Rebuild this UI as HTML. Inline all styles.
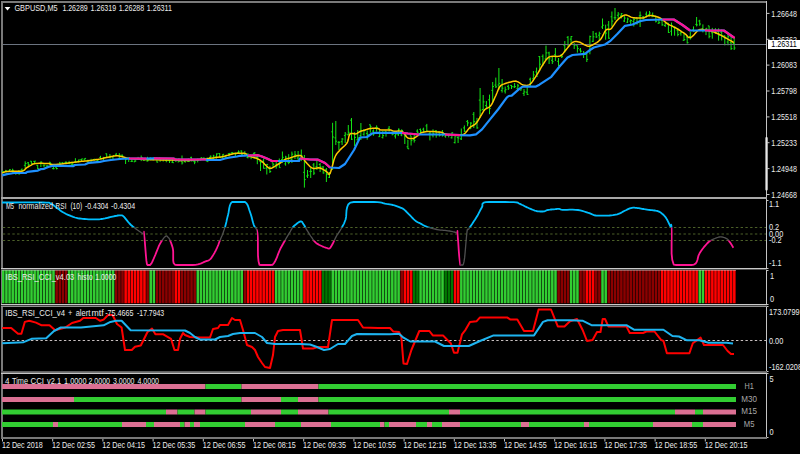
<!DOCTYPE html><html><head><meta charset="utf-8"><style>html,body{margin:0;padding:0;background:#000;overflow:hidden}svg{display:block}text{font-family:"Liberation Sans",sans-serif}</style></head><body>
<svg width="800" height="454" viewBox="0 0 800 454">
<rect x="0" y="0" width="800" height="454" fill="#000"/>
<g shape-rendering="crispEdges">
<rect x="1" y="1" width="766" height="2" fill="#7a7a7a"/>
<rect x="1" y="1" width="2" height="438" fill="#7a7a7a"/>
<rect x="766" y="1" width="1" height="438" fill="#c4c4c4"/>
<rect x="1" y="197" width="766" height="2" fill="#a8a8a8"/>
<rect x="1" y="268" width="766" height="1" fill="#c8c8c8"/><rect x="1" y="269" width="766" height="1" fill="#505050"/>
<rect x="1" y="304" width="766" height="1" fill="#c8c8c8"/><rect x="1" y="305" width="766" height="1" fill="#404040"/><rect x="1" y="306" width="766" height="1" fill="#909090"/>
<rect x="1" y="371" width="766" height="1" fill="#606060"/><rect x="1" y="372" width="766" height="1" fill="#747474"/><rect x="1" y="373" width="766" height="1" fill="#c8c8c8"/>
<rect x="1" y="437" width="766" height="2" fill="#787878"/>
</g>
<rect x="765.4" y="137" width="2.3" height="53.5" rx="1" fill="#e8e8e8"/>
<g stroke="#14e614" stroke-width="1" fill="none">
<path d="M3.2 171.1V173.5M1.9 171.3H3.2M3.2 172.4H4.5M6.3 170.4V172.5M5.0 170.4H6.3M6.3 171.3H7.6M9.5 169.3V171.5M8.2 171.1H9.5M9.5 169.6H10.8M12.6 168.7V172.8M11.3 171.1H12.6M12.6 170.3H13.9M15.8 171.8V174.8M14.4 172.7H15.8M15.8 172.3H17.1M18.9 170.0V174.5M17.6 173.1H18.9M18.9 173.9H20.2M22.0 168.4V171.5M20.7 169.8H22.0M22.0 170.6H23.3M25.2 161.3V168.4M23.9 165.3H25.2M25.2 163.5H26.5M28.3 162.0V166.0M27.0 162.8H28.3M28.3 164.5H29.6M31.4 161.0V164.0M30.1 161.2H31.4M31.4 163.7H32.7M34.6 161.0V164.0M33.3 161.4H34.6M34.6 161.1H35.9M37.7 165.0V169.0M36.4 165.4H37.7M37.7 168.7H39.0M40.9 161.3V167.0M39.6 163.3H40.9M40.9 162.1H42.2M44.0 165.0V167.5M42.7 165.1H44.0M44.0 165.1H45.3M47.1 165.0V166.6M45.8 166.1H47.1M47.1 166.0H48.4M50.3 162.2V165.5M49.0 162.2H50.3M50.3 163.7H51.6M53.4 167.0V169.3M52.1 168.6H53.4M53.4 168.7H54.7M56.5 167.5V169.3M55.2 167.6H56.5M56.5 168.6H57.8M59.7 161.9V166.5M58.4 165.9H59.7M59.7 163.2H61.0M62.8 162.0V164.0M61.5 162.7H62.8M62.8 163.6H64.1M66.0 161.2V163.6M64.7 162.4H66.0M66.0 162.6H67.2M69.1 160.9V164.0M67.8 163.4H69.1M69.1 163.7H70.4M72.2 161.7V165.7M70.9 164.2H72.2M72.2 164.4H73.5M75.4 158.2V163.1M74.1 162.5H75.4M75.4 162.1H76.7M78.5 159.8V162.4M77.2 161.4H78.5M78.5 159.9H79.8M81.6 158.8V161.2M80.3 159.6H81.6M81.6 158.9H82.9M84.8 158.4V160.6M83.5 159.2H84.8M84.8 158.4H86.1M87.9 159.7V163.0M86.6 160.6H87.9M87.9 160.9H89.2M91.1 158.8V162.5M89.8 162.5H91.1M91.1 160.5H92.4M94.2 158.8V160.9M92.9 159.5H94.2M94.2 159.3H95.5M97.3 159.2V161.3M96.0 161.2H97.3M97.3 160.3H98.6M100.5 155.8V158.8M99.2 157.4H100.5M100.5 158.7H101.8M103.6 156.9V160.7M102.3 158.3H103.6M103.6 157.6H104.9M106.7 153.5V158.0M105.4 153.8H106.7M106.7 157.4H108.0M109.9 154.0V158.0M108.6 157.7H109.9M109.9 157.8H111.2M113.0 155.7V159.0M111.7 156.9H113.0M113.0 155.8H114.3M116.2 152.9V155.8M114.9 154.9H116.2M116.2 155.7H117.5M119.3 153.1V158.9M118.0 158.7H119.3M119.3 155.2H120.6M122.4 154.6V157.3M121.1 155.2H122.4M122.4 156.3H123.7M125.6 158.0V164.0M124.3 158.6H125.6M125.6 159.2H126.9M128.7 158.0V162.0M127.4 158.4H128.7M128.7 158.1H130.0M131.8 158.0V162.0M130.5 161.4H131.8M131.8 161.2H133.1M135.0 158.5V162.0M133.7 161.8H135.0M135.0 161.0H136.3M138.1 156.9V159.3M136.8 159.0H138.1M138.1 158.8H139.4M141.2 155.5V161.1M139.9 159.2H141.2M141.2 157.5H142.6M144.4 158.4V160.5M143.1 160.4H144.4M144.4 159.8H145.7M147.5 156.8V161.5M146.2 160.9H147.5M147.5 160.7H148.8M150.7 157.4V160.3M149.4 158.1H150.7M150.7 159.1H152.0M153.8 157.2V160.2M152.5 159.9H153.8M153.8 158.3H155.1M156.9 157.6V162.5M155.6 159.6H156.9M156.9 162.1H158.2M160.1 157.9V161.9M158.8 157.9H160.1M160.1 159.6H161.4M163.2 158.1V161.6M161.9 158.7H163.2M163.2 159.7H164.5M166.3 158.6V162.3M165.0 160.5H166.3M166.3 160.7H167.7M169.5 159.8V163.0M168.2 160.6H169.5M169.5 160.7H170.8M172.6 159.0V163.0M171.3 162.1H172.6M172.6 162.7H173.9M175.8 157.9V162.0M174.5 160.0H175.8M175.8 160.7H177.1M178.9 158.2V162.1M177.6 161.9H178.9M178.9 160.9H180.2M182.0 155.5V164.5M180.7 161.2H182.0M182.0 162.9H183.3M185.2 160.4V162.8M183.9 161.5H185.2M185.2 160.6H186.5M188.3 158.5V161.9M187.0 161.2H188.3M188.3 161.5H189.6M191.4 156.7V161.4M190.1 157.4H191.4M191.4 160.8H192.8M194.6 159.9V164.2M193.3 161.6H194.6M194.6 162.0H195.9M197.7 158.5V162.4M196.4 160.2H197.7M197.7 160.5H199.0M200.9 157.6V160.5M199.6 159.7H200.9M200.9 157.7H202.2M204.0 157.3V160.1M202.7 158.2H204.0M204.0 159.1H205.3M207.1 157.6V161.7M205.8 160.8H207.1M207.1 161.6H208.4M210.3 155.5V158.0M209.0 157.5H210.3M210.3 156.2H211.6M213.4 154.8V159.7M212.1 158.8H213.4M213.4 156.1H214.7M216.6 153.4V158.6M215.2 157.0H216.6M216.6 153.9H217.9M219.7 153.2V157.6M218.4 153.5H219.7M219.7 157.4H221.0M222.8 154.1V158.0M221.5 157.4H222.8M222.8 154.3H224.1M226.0 154.8V158.6M224.7 156.9H226.0M226.0 158.3H227.3M229.1 153.0V156.5M227.8 153.8H229.1M229.1 153.4H230.4M232.2 152.1V154.6M230.9 152.9H232.2M232.2 152.8H233.5M235.4 152.6V156.5M234.1 153.3H235.4M235.4 153.9H236.7M238.5 150.4V153.1M237.2 152.4H238.5M238.5 151.9H239.8M241.7 150.4V155.8M240.3 151.0H241.7M241.7 154.8H243.0M244.8 151.1V156.3M243.5 153.1H244.8M244.8 153.7H246.1M247.9 153.1V158.4M246.6 157.5H247.9M247.9 156.8H249.2M251.1 154.9V159.2M249.8 155.1H251.1M251.1 155.5H252.4M254.2 152.4V158.6M252.9 153.4H254.2M254.2 152.9H255.5M257.3 154.5V164.2M256.0 157.3H257.3M257.3 156.9H258.6M260.5 160.0V171.0M259.2 161.2H260.5M260.5 162.3H261.8M263.6 158.6V168.6M262.3 161.1H263.6M263.6 168.3H264.9M266.8 164.0V174.5M265.4 168.1H266.8M266.8 164.4H268.1M269.9 166.0V173.0M268.6 168.8H269.9M269.9 171.5H271.2M273.0 162.7V168.1M271.7 162.8H273.0M273.0 164.3H274.3M276.2 160.3V168.7M274.9 166.6H276.2M276.2 165.8H277.5M279.3 158.5V167.7M278.0 161.5H279.3M279.3 167.6H280.6M282.4 151.5V163.0M281.1 159.5H282.4M282.4 157.3H283.7M285.6 155.8V165.7M284.3 163.9H285.6M285.6 157.1H286.9M288.7 154.2V164.2M287.4 162.3H288.7M288.7 162.5H290.0M291.9 151.6V163.0M290.6 159.5H291.9M291.9 154.2H293.2M295.0 151.0V159.0M293.7 156.1H295.0M295.0 154.7H296.3M298.1 151.0V161.3M296.8 158.0H298.1M298.1 156.0H299.4M301.3 149.5V161.1M300.0 155.3H301.3M301.3 155.7H302.6M304.4 155.0V187.6M303.1 172.3H304.4M304.4 179.6H305.7M307.5 170.0V178.0M306.2 176.0H307.5M307.5 175.2H308.8M310.7 168.0V178.0M309.4 171.5H310.7M310.7 171.3H312.0M313.8 163.0V175.0M312.5 164.9H313.8M313.8 173.1H315.1M316.9 160.0V170.0M315.6 166.6H316.9M316.9 167.4H318.2M320.1 163.0V172.0M318.8 164.5H320.1M320.1 166.9H321.4M323.2 166.1V173.7M321.9 167.0H323.2M323.2 172.9H324.5M326.4 168.0V182.0M325.1 169.8H326.4M326.4 174.5H327.7M329.5 172.0V178.0M328.2 177.3H329.5M329.5 173.4H330.8M332.6 122.8V170.0M331.3 131.8H332.6M332.6 137.0H333.9M335.8 121.0V145.0M334.5 137.9H335.8M335.8 141.2H337.1M338.9 141.0V150.0M337.6 142.4H338.9M338.9 142.4H340.2M342.1 138.0V145.0M340.8 141.7H342.1M342.1 139.1H343.4M345.2 132.0V143.0M343.9 135.6H345.2M345.2 134.1H346.5M348.3 125.0V135.0M347.0 134.8H348.3M348.3 132.3H349.6M351.5 118.0V140.0M350.2 120.2H351.5M351.5 139.2H352.8M354.6 132.0V146.0M353.3 133.4H354.6M354.6 137.4H355.9M357.7 130.0V140.0M356.4 139.8H357.7M357.7 137.9H359.0M360.9 123.0V140.0M359.6 135.5H360.9M360.9 130.4H362.2M364.0 129.3V135.8M362.7 134.2H364.0M364.0 130.6H365.3M367.2 130.4V139.7M365.9 133.4H367.2M367.2 134.3H368.5M370.3 124.6V132.7M369.0 124.8H370.3M370.3 126.7H371.6M373.4 129.3V135.8M372.1 131.1H373.4M373.4 134.0H374.7M376.6 125.4V131.6M375.3 127.7H376.6M376.6 127.4H377.9M379.7 130.0V137.0M378.4 136.7H379.7M379.7 133.5H381.0M382.8 131.0V138.5M381.5 137.4H382.8M382.8 135.6H384.1M386.0 131.0V136.6M384.7 131.2H386.0M386.0 133.3H387.3M389.1 126.0V131.6M387.8 128.4H389.1M389.1 130.3H390.4M392.2 131.6V135.4M390.9 132.9H392.2M392.2 134.3H393.6M395.4 133.0V138.5M394.1 136.0H395.4M395.4 134.2H396.7M398.5 128.5V135.8M397.2 134.8H398.5M398.5 129.2H399.8M401.7 129.3V136.2M400.4 135.0H401.7M401.7 130.5H403.0M404.8 134.0V144.0M403.5 134.0H404.8M404.8 136.0H406.1M407.9 139.7V149.0M406.6 146.8H407.9M407.9 148.8H409.2M411.1 135.8V145.5M409.8 135.8H411.1M411.1 140.6H412.4M414.2 133.2V142.6M412.9 139.3H414.2M414.2 140.4H415.5M417.4 129.3V133.0M416.1 131.1H417.4M417.4 132.2H418.7M420.5 128.5V133.5M419.2 129.4H420.5M420.5 131.0H421.8M423.6 127.7V132.0M422.3 129.2H423.6M423.6 131.3H424.9M426.8 123.9V131.6M425.5 125.9H426.8M426.8 131.2H428.1M429.9 131.0V140.4M428.6 133.7H429.9M429.9 133.0H431.2M433.0 129.3V137.4M431.7 135.0H433.0M433.0 133.3H434.3M436.2 130.0V137.7M434.9 130.8H436.2M436.2 134.9H437.5M439.3 131.6V136.6M438.0 132.0H439.3M439.3 135.5H440.6M442.4 130.0V136.6M441.1 134.6H442.4M442.4 135.2H443.8M445.6 133.5V137.7M444.3 136.1H445.6M445.6 135.0H446.9M448.7 134.0V137.4M447.4 135.4H448.7M448.7 135.3H450.0M451.9 132.3V138.5M450.6 137.8H451.9M451.9 132.8H453.2M455.0 135.8V143.5M453.7 142.6H455.0M455.0 136.0H456.3M458.1 136.2V143.0M456.8 137.6H458.1M458.1 138.0H459.4M461.3 128.5V140.0M460.0 138.9H461.3M461.3 134.3H462.6M464.4 125.4V132.0M463.1 127.9H464.4M464.4 131.2H465.7M467.6 120.0V126.2M466.2 121.4H467.6M467.6 122.9H468.9M470.7 122.2V129.0M469.4 128.7H470.7M470.7 123.1H472.0M473.8 112.0V128.0M472.5 114.3H473.8M473.8 121.7H475.1M477.0 117.9V128.8M475.7 122.0H477.0M477.0 127.9H478.3M480.1 88.0V118.0M478.8 100.1H480.1M480.1 110.2H481.4M483.2 95.0V111.0M481.9 109.5H483.2M483.2 101.9H484.5M486.4 101.0V109.0M485.1 105.6H486.4M486.4 107.0H487.7M489.5 94.6V114.2M488.2 99.8H489.5M489.5 108.6H490.8M492.7 82.0V102.0M491.4 90.4H492.7M492.7 86.6H494.0M495.8 77.6V88.0M494.5 85.1H495.8M495.8 86.8H497.1M498.9 68.0V90.0M497.6 85.0H498.9M498.9 83.4H500.2M502.1 79.0V92.6M500.8 90.6H502.1M502.1 88.2H503.4M505.2 86.5V93.5M503.9 91.0H505.2M505.2 89.7H506.5M508.3 84.7V90.0M507.0 86.4H508.3M508.3 88.0H509.6M511.5 85.0V89.0M510.2 85.4H511.5M511.5 86.7H512.8M514.6 83.0V88.0M513.3 86.9H514.6M514.6 86.6H515.9M517.8 84.0V91.0M516.5 88.4H517.8M517.8 85.8H519.1M520.9 87.0V91.0M519.6 88.7H520.9M520.9 88.8H522.2M524.0 89.0V96.0M522.7 93.4H524.0M524.0 91.9H525.3M527.2 86.5V95.0M525.9 92.2H527.2M527.2 94.4H528.5M530.3 77.6V86.5M529.0 79.2H530.3M530.3 83.4H531.6M533.4 71.0V81.0M532.1 78.8H533.4M533.4 74.9H534.7M536.6 67.6V76.4M535.3 71.9H536.6M536.6 76.2H537.9M539.7 56.0V71.0M538.4 56.6H539.7M539.7 64.2H541.0M542.9 54.4V66.0M541.6 56.3H542.9M542.9 63.5H544.1M546.0 45.6V59.7M544.7 58.9H546.0M546.0 52.9H547.3M549.1 51.7V64.0M547.8 52.9H549.1M549.1 58.8H550.4M552.3 56.0V64.0M551.0 60.3H552.3M552.3 61.7H553.6M555.4 48.0V61.0M554.1 54.7H555.4M555.4 56.3H556.7M558.5 58.0V66.0M557.2 61.3H558.5M558.5 65.6H559.8M561.7 54.0V58.0M560.4 54.8H561.7M561.7 56.7H563.0M564.8 41.0V52.6M563.5 45.6H564.8M564.8 49.8H566.1M568.0 36.0V46.5M566.7 37.3H568.0M568.0 46.3H569.2M571.1 36.0V44.7M569.8 39.1H571.1M571.1 36.5H572.4M574.2 43.0V49.0M572.9 44.6H574.2M574.2 45.4H575.5M577.4 45.6V52.6M576.1 45.7H577.4M577.4 48.5H578.7M580.5 48.0V52.6M579.2 49.9H580.5M580.5 51.2H581.8M583.6 51.0V58.0M582.3 53.5H583.6M583.6 52.9H584.9M586.8 52.0V62.0M585.5 54.2H586.8M586.8 59.4H588.1M589.9 35.6V54.3M588.6 44.6H589.9M589.9 36.6H591.2M593.1 31.0V42.0M591.8 41.3H593.1M593.1 36.8H594.4M596.2 32.6V38.0M594.9 33.8H596.2M596.2 36.9H597.5M599.3 31.7V40.6M598.0 35.2H599.3M599.3 33.6H600.6M602.5 18.5V29.0M601.2 27.0H602.5M602.5 25.2H603.8M605.6 24.7V39.7M604.3 31.7H605.6M605.6 33.1H606.9M608.7 21.0V38.8M607.4 25.0H608.7M608.7 38.2H610.0M611.9 11.5V26.5M610.6 16.8H611.9M611.9 21.1H613.2M615.0 8.0V20.0M613.7 17.8H615.0M615.0 17.8H616.3M618.2 12.0V19.0M616.9 15.3H618.2M618.2 14.1H619.5M621.3 13.0V18.5M620.0 16.0H621.3M621.3 13.7H622.6M624.4 16.0V22.0M623.1 21.0H624.4M624.4 18.1H625.7M627.6 17.6V23.0M626.3 22.2H627.6M627.6 19.0H628.9M630.7 19.4V24.0M629.4 21.1H630.7M630.7 20.6H632.0M633.8 17.6V26.5M632.5 21.4H633.8M633.8 19.3H635.1M637.0 17.6V24.7M635.7 17.6H637.0M637.0 22.7H638.3M640.1 11.5V27.0M638.8 15.9H640.1M640.1 15.3H641.4M643.3 16.0V19.4M642.0 17.0H643.3M643.3 17.6H644.6M646.4 11.5V17.6M645.1 14.1H646.4M646.4 15.4H647.7M649.5 11.0V16.5M648.2 14.6H649.5M649.5 13.0H650.8M652.7 12.5V17.0M651.4 16.7H652.7M652.7 16.3H654.0M655.8 15.8V22.5M654.5 16.2H655.8M655.8 21.3H657.1M658.9 18.5V23.8M657.6 23.3H658.9M658.9 22.7H660.2M662.1 19.8V25.8M660.8 20.6H662.1M662.1 24.8H663.4M665.2 23.0V27.0M663.9 25.5H665.2M665.2 23.1H666.5M668.4 23.0V33.0M667.1 23.1H668.4M668.4 32.5H669.7M671.5 22.5V35.7M670.2 31.2H671.5M671.5 25.8H672.8M674.6 26.4V35.7M673.3 27.3H674.6M674.6 27.7H675.9M677.8 28.4V36.3M676.5 30.2H677.8M677.8 34.5H679.1M680.9 31.7V35.7M679.6 33.1H680.9M680.9 32.3H682.2M684.0 33.7V41.0M682.7 40.3H684.0M684.0 39.5H685.3M687.2 35.7V43.6M685.9 37.0H687.2M687.2 42.7H688.5M690.3 31.7V39.6M689.0 36.5H690.3M690.3 37.9H691.6M693.5 26.4V31.7M692.2 29.9H693.5M693.5 31.1H694.8M696.6 17.0V26.4M695.3 24.4H696.6M696.6 24.9H697.9M699.7 19.8V25.8M698.4 21.0H699.7M699.7 24.0H701.0M702.9 24.4V32.4M701.6 28.6H702.9M702.9 30.3H704.2M706.0 28.0V35.1M704.7 30.1H706.0M706.0 28.3H707.3M709.1 25.8V38.3M707.8 25.9H709.1M709.1 36.3H710.4M712.3 27.9V38.7M711.0 32.8H712.3M712.3 30.3H713.6M715.4 28.1V34.0M714.1 30.1H715.4M715.4 32.5H716.7M718.6 28.3V40.7M717.3 31.6H718.6M718.6 35.2H719.9M721.7 29.4V40.5M720.4 32.4H721.7M721.7 36.5H723.0M724.8 35.5V45.4M723.5 35.7H724.8M724.8 38.1H726.1M728.0 32.5V45.3M726.7 42.0H728.0M728.0 36.7H729.3M731.1 37.0V50.0M729.8 42.7H731.1M731.1 48.5H732.4M734.2 37.7V50.0M732.9 43.5H734.2M734.2 48.0H735.5"/>
</g>
<rect x="3" y="44" width="763" height="1" fill="#6c7480"/>
<polyline points="2.2,172.8 2.6,172.6 3.1,172.4 3.8,172.2 4.5,171.9 5.3,171.7 6.2,171.5 7.2,171.4 8.2,171.4 9.4,171.3 10.6,171.3 11.9,171.3 13.2,171.3 14.7,171.3 16.3,171.3 18.0,171.3 19.7,171.3 21.2,171.2 22.5,171.0 23.5,170.6 24.2,170.2 24.8,169.6 25.3,169.0 25.9,168.4 26.5,167.9 27.2,167.4 27.9,167.0 28.7,166.5 29.4,166.1 30.2,165.7 30.9,165.3 31.5,164.9 32.0,164.6 32.5,164.2 33.2,163.9 34.1,163.7 35.3,163.5 37.1,163.4 39.4,163.3 42.0,163.3 44.6,163.4 46.8,163.4 48.5,163.5 49.5,163.6 49.9,163.8 50.0,164.1 50.0,164.3 50.3,164.5 51.1,164.6 52.4,164.6 54.1,164.5 56.0,164.4 58.0,164.3 60.0,164.2 61.7,164.0 63.2,163.8 64.6,163.6 65.9,163.4 67.2,163.2 68.5,163.0 70.0,162.8 71.6,162.6 73.2,162.4 74.9,162.1 76.6,161.9 78.3,161.7 80.0,161.5 81.7,161.3 83.3,161.2 85.0,161.0 86.7,160.9 88.3,160.7 90.0,160.5 91.7,160.3 93.4,160.0 95.1,159.8 96.8,159.5 98.4,159.3 100.0,159.0 101.4,158.7 102.8,158.4 104.1,158.1 105.4,157.8 106.7,157.5 108.0,157.2 109.4,156.9 110.8,156.6 112.2,156.4 113.6,156.1 114.9,155.9 116.0,155.8 116.9,155.8 117.6,155.8 118.2,155.8 118.7,155.9 119.3,156.1 120.0,156.2 120.8,156.4 121.6,156.6 122.4,156.8 123.3,157.1 124.2,157.3 125.0,157.5 125.7,157.7 126.2,157.9 126.8,158.0 127.4,158.2 128.5,158.3 130.0,158.5 132.0,158.7 134.4,158.9 137.1,159.1 140.1,159.3 143.4,159.4 147.0,159.6 151.2,159.7 156.2,159.8 161.4,159.9 166.6,160.0 171.2,160.1 175.0,160.2 177.7,160.3 179.5,160.4 180.8,160.5 182.0,160.6 183.3,160.6 185.0,160.6 187.2,160.5 189.4,160.4 191.9,160.2 194.4,160.0 197.2,159.8 200.0,159.5 203.2,159.1 206.9,158.7 210.6,158.2 214.3,157.8 217.5,157.3 220.0,157.0 221.6,156.8 222.6,156.6 223.1,156.5 223.5,156.4 224.1,156.2 225.0,156.0 226.4,155.6 228.0,155.2 229.7,154.7 231.5,154.2 233.3,153.8 235.0,153.5 236.7,153.3 238.6,153.2 240.4,153.2 242.2,153.2 243.7,153.3 245.0,153.5 245.9,153.8 246.4,154.2 246.8,154.7 247.1,155.2 247.5,155.6 248.0,156.0 248.7,156.3 249.5,156.5 250.4,156.6 251.3,156.8 252.1,157.0 253.0,157.2 253.8,157.5 254.7,157.7 255.6,158.0 256.4,158.3 257.2,158.7 258.0,159.0 258.7,159.4 259.4,159.7 260.1,160.1 260.7,160.5 261.3,161.0 262.0,161.5 262.7,162.1 263.4,162.8 264.1,163.5 264.7,164.2 265.4,164.9 266.0,165.5 266.6,166.0 267.1,166.5 267.6,167.0 268.0,167.4 268.5,167.7 269.0,168.0 269.5,168.2 270.0,168.3 270.4,168.3 270.9,168.3 271.4,168.2 272.0,168.0 272.6,167.7 273.2,167.4 273.9,166.9 274.6,166.5 275.3,166.0 276.0,165.5 276.8,165.0 277.6,164.5 278.5,164.0 279.4,163.5 280.2,163.0 281.0,162.5 281.7,162.0 282.4,161.4 283.0,160.9 283.6,160.4 284.3,159.9 285.0,159.5 285.7,159.2 286.4,158.9 287.1,158.7 287.9,158.5 288.9,158.3 290.0,158.0 291.4,157.5 293.1,156.9 295.0,156.3 296.9,155.8 298.6,155.5 300.0,155.5 301.1,155.9 302.0,156.7 302.7,157.7 303.4,158.8 304.1,159.9 305.0,161.0 306.0,162.2 307.1,163.5 308.3,164.8 309.5,166.1 310.8,167.2 312.0,168.0 313.3,168.4 314.6,168.4 316.0,168.2 317.4,168.0 318.7,167.8 320.0,168.0 321.3,168.5 322.6,169.1 323.8,169.9 325.0,170.7 326.1,171.4 327.0,172.0 327.7,172.6 328.2,173.4 328.6,174.0 329.0,174.4 329.4,174.3 330.0,173.5 330.7,171.7 331.5,169.0 332.4,165.8 333.3,162.5 334.1,159.4 335.0,157.0 335.8,155.3 336.6,154.0 337.4,152.9 338.2,152.0 339.1,151.1 340.0,150.0 341.1,148.9 342.3,147.7 343.6,146.6 344.9,145.5 346.0,144.3 347.0,143.0 347.7,141.5 348.2,139.8 348.6,138.1 348.9,136.4 349.4,135.0 350.0,134.0 350.8,133.5 351.9,133.4 352.9,133.5 354.0,133.7 355.1,133.9 356.0,133.8 356.8,133.5 357.4,133.2 358.1,132.7 358.7,132.3 359.3,131.9 360.0,131.5 360.8,131.2 361.6,130.9 362.4,130.7 363.3,130.5 364.2,130.2 365.0,130.0 365.8,129.7 366.6,129.4 367.3,129.2 368.1,128.9 369.0,128.7 370.0,128.5 371.2,128.4 372.6,128.3 374.1,128.3 375.6,128.3 376.9,128.4 378.0,128.5 378.7,128.7 379.1,128.9 379.4,129.2 379.7,129.6 380.2,129.8 381.0,130.0 382.2,130.1 383.7,130.1 385.4,130.0 387.1,130.0 388.7,129.9 390.0,130.0 390.9,130.1 391.6,130.3 392.1,130.6 392.6,130.8 393.2,131.0 394.0,131.2 395.1,131.3 396.5,131.2 398.0,131.1 399.5,131.1 400.9,131.2 402.0,131.5 402.9,132.0 403.7,132.8 404.4,133.6 405.0,134.5 405.5,135.3 406.0,136.0 406.4,136.5 406.7,136.9 406.9,137.2 407.2,137.5 407.5,137.8 408.0,138.0 408.7,138.2 409.4,138.4 410.3,138.6 411.2,138.6 412.1,138.6 413.0,138.5 413.8,138.2 414.7,137.8 415.6,137.2 416.4,136.6 417.2,136.0 418.0,135.5 418.7,135.0 419.3,134.4 419.8,133.9 420.4,133.4 421.1,132.9 422.0,132.5 423.1,132.2 424.3,132.0 425.6,131.8 427.0,131.6 428.4,131.5 430.0,131.5 431.7,131.5 433.6,131.6 435.6,131.7 437.6,131.9 439.4,132.1 441.0,132.3 442.2,132.6 443.1,132.9 443.8,133.3 444.6,133.7 445.6,134.0 447.0,134.3 449.0,134.5 451.4,134.7 454.1,134.8 456.8,134.8 459.2,134.8 461.0,134.8 462.2,134.7 463.0,134.6 463.6,134.5 464.0,134.2 464.4,133.8 465.0,133.3 465.8,132.5 466.6,131.6 467.4,130.5 468.2,129.4 469.1,128.3 470.0,127.4 471.0,126.7 472.0,126.1 473.0,125.5 474.0,125.0 475.0,124.3 476.0,123.4 476.9,122.3 477.8,121.0 478.6,119.6 479.5,118.1 480.2,116.8 481.0,115.5 481.7,114.4 482.3,113.3 482.9,112.3 483.5,111.3 484.1,110.4 484.9,109.5 485.8,108.8 486.8,108.3 487.8,107.8 488.8,107.3 489.8,106.6 490.8,105.6 491.7,104.3 492.6,102.7 493.4,100.9 494.2,99.1 495.0,97.3 495.8,95.6 496.5,94.0 497.2,92.3 497.8,90.7 498.4,89.2 499.1,87.8 499.8,86.7 500.5,85.9 501.2,85.2 501.9,84.8 502.7,84.4 503.6,84.1 504.7,83.7 506.0,83.2 507.6,82.8 509.3,82.3 510.9,81.9 512.4,81.5 513.7,81.3 514.6,81.2 515.3,81.1 515.9,81.2 516.4,81.3 516.9,81.5 517.6,81.7 518.4,82.1 519.2,82.6 520.0,83.2 520.9,83.8 521.8,84.3 522.6,84.7 523.4,85.0 524.3,85.2 525.1,85.3 525.9,85.4 526.7,85.4 527.5,85.3 528.2,85.1 528.8,84.9 529.4,84.6 530.1,84.2 530.7,83.5 531.5,82.7 532.4,81.6 533.4,80.2 534.4,78.7 535.4,77.1 536.5,75.4 537.5,73.8 538.5,72.2 539.5,70.5 540.5,68.7 541.4,67.0 542.4,65.4 543.4,63.9 544.3,62.5 545.2,61.1 546.1,59.8 547.1,58.7 548.1,57.7 549.4,56.9 551.0,56.4 552.8,56.3 554.8,56.3 556.7,56.4 558.5,56.3 560.0,56.0 561.1,55.4 562.0,54.8 562.7,54.0 563.4,53.1 564.1,52.1 565.0,51.0 566.1,49.7 567.4,48.1 568.7,46.5 570.0,44.9 571.3,43.5 572.5,42.5 573.6,41.9 574.7,41.6 575.7,41.5 576.7,41.6 577.7,41.8 578.8,42.0 579.8,42.3 580.9,42.8 582.0,43.4 583.0,44.0 584.0,44.6 585.0,45.0 585.8,45.4 586.6,45.7 587.3,46.1 588.0,46.3 588.9,46.3 590.0,46.0 591.4,45.5 593.1,44.7 594.9,43.7 596.8,42.6 598.5,41.3 600.0,40.0 601.2,38.5 602.3,36.6 603.3,34.7 604.2,32.8 605.1,31.2 606.0,30.0 606.9,29.4 607.7,29.2 608.5,29.3 609.3,29.4 610.1,29.3 611.0,28.8 612.0,27.7 613.0,26.2 614.1,24.6 615.2,22.9 616.3,21.3 617.5,20.0 618.7,18.9 619.9,17.8 621.2,16.8 622.5,16.0 623.7,15.4 625.0,15.0 626.2,15.0 627.4,15.4 628.6,15.9 629.8,16.5 631.1,17.1 632.5,17.5 634.1,17.7 635.7,17.9 637.5,18.1 639.3,18.1 640.9,18.1 642.5,18.0 643.9,17.7 645.1,17.2 646.2,16.6 647.4,16.1 648.6,15.7 650.0,15.5 651.6,15.6 653.2,15.8 655.0,16.2 656.8,16.7 658.4,17.3 660.0,18.0 661.4,18.8 662.7,19.8 663.9,20.8 665.1,21.9 666.3,22.9 667.5,23.8 668.7,24.5 669.9,25.1 671.1,25.6 672.3,26.1 673.6,26.8 675.0,27.5 676.6,28.4 678.4,29.5 680.2,30.6 682.0,31.8 683.7,32.8 685.0,33.8 686.0,34.6 686.7,35.4 687.3,36.1 687.7,36.7 688.2,37.2 688.8,37.5 689.3,37.6 689.9,37.6 690.5,37.5 691.1,37.2 691.7,36.8 692.5,36.2 693.4,35.4 694.4,34.3 695.5,33.0 696.6,31.8 697.7,30.7 698.8,30.0 699.7,29.6 700.7,29.4 701.6,29.5 702.6,29.6 703.7,29.8 705.0,30.0 706.4,30.2 708.1,30.6 709.8,30.9 711.5,31.4 713.3,31.9 715.0,32.5 716.7,33.2 718.4,34.0 720.1,34.8 721.8,35.7 723.4,36.6 725.0,37.5 726.6,38.4 728.3,39.4 730.0,40.3 731.5,41.2 732.8,42.0 733.8,42.5" fill="none" stroke="#ffc800" stroke-width="1.5" stroke-linejoin="round"/>
<polyline points="2.2,175.4 7.0,174.1 14.1,173.0 25.6,173.0 27.3,171.9 37.9,170.6 40.6,169.2 44.1,168.8 49.4,166.6 52.9,165.7 73.0,166.2 75.0,165.0 85.0,164.5 89.0,162.8 100.0,161.8 104.0,161.0 111.0,160.0 120.0,159.0 129.0,158.5 146.0,158.6 154.0,158.4 174.0,158.5 174.5,159.5 206.0,159.5 206.5,159.8 220.0,160.0 225.0,158.5 230.0,157.5 237.0,156.5 240.0,155.8 248.0,155.5 258.0,155.2 262.0,156.5 268.0,159.0 272.0,161.0 278.0,161.0 299.0,161.0 300.0,158.5 310.0,159.5 318.0,159.7 325.0,163.0 330.0,167.5 339.0,168.0 345.0,164.0 354.0,150.0 360.0,137.5 367.0,137.0 372.0,133.5 375.0,132.8 402.0,132.8 408.0,133.5 419.0,134.5 445.0,134.5 460.0,135.2 470.0,135.3 476.0,134.3 482.0,129.4 490.0,119.4 498.0,109.5 506.7,97.6 508.7,96.0 511.7,95.6 519.6,88.7 522.6,86.7 535.5,86.7 539.4,84.7 544.4,81.3 551.3,76.8 560.0,66.0 567.5,57.5 572.5,55.0 585.0,53.8 590.0,50.0 593.8,47.5 605.0,44.5 610.0,41.2 617.5,33.8 625.0,25.8 632.5,24.5 640.0,21.2 646.0,20.0 662.5,19.5 673.8,19.5 682.5,25.0 690.0,30.5 723.8,30.5 733.8,37.5" fill="none" stroke="#1e90ff" stroke-width="2.2" stroke-linejoin="round"/>
<polyline points="129.0,158.5 146.0,158.6 146.5,158.6" fill="none" stroke="#ff1493" stroke-width="2.2" stroke-linejoin="round"/>
<polyline points="154.0,158.4 174.0,158.5 174.5,159.5 206.0,159.5" fill="none" stroke="#ff1493" stroke-width="2.2" stroke-linejoin="round"/>
<polyline points="248.0,155.5 258.0,155.2 262.0,156.5 268.0,159.0 272.0,161.0 278.0,161.0" fill="none" stroke="#ff1493" stroke-width="2.2" stroke-linejoin="round"/>
<polyline points="300.0,158.5 310.0,159.5 318.0,159.7 325.0,163.0 330.0,167.5" fill="none" stroke="#ff1493" stroke-width="2.2" stroke-linejoin="round"/>
<polyline points="402.0,132.8 408.0,133.5 419.0,134.5" fill="none" stroke="#ff1493" stroke-width="2.2" stroke-linejoin="round"/>
<polyline points="445.0,134.5 460.0,135.2" fill="none" stroke="#ff1493" stroke-width="2.2" stroke-linejoin="round"/>
<polyline points="662.5,19.5 673.8,19.5 682.5,25.0 690.0,30.5" fill="none" stroke="#ff1493" stroke-width="2.2" stroke-linejoin="round"/>
<polyline points="705.0,30.5 723.8,30.5 733.8,37.5 735.0,37.5" fill="none" stroke="#ff1493" stroke-width="2.2" stroke-linejoin="round"/>
<line x1="2.81" y1="227.5" x2="766" y2="227.5" stroke="#4c6029" stroke-width="1" stroke-dasharray="2.4 2.36"/>
<line x1="2.81" y1="234.0" x2="766" y2="234.0" stroke="#4c6029" stroke-width="1" stroke-dasharray="2.4 2.36"/>
<line x1="2.81" y1="240.5" x2="766" y2="240.5" stroke="#4c6029" stroke-width="1" stroke-dasharray="2.4 2.36"/>
<defs><clipPath id="cTop"><rect x="0" y="199" width="800" height="28.5"/></clipPath><clipPath id="cMid"><rect x="0.0" y="227.5" width="143.5" height="13.0"/><rect x="147.5" y="227.5" width="109.5" height="13.0"/><rect x="260.0" y="227.5" width="196.5" height="13.0"/><rect x="460.4" y="227.5" width="0.0" height="13.0"/><rect x="460.4" y="227.5" width="7.1" height="43.0"/><rect x="467.5" y="227.5" width="203.5" height="13.0"/><rect x="674.0" y="227.5" width="126.0" height="13.0"/></clipPath><clipPath id="cBot"><rect x="0.0" y="240.5" width="143.5" height="30.0"/><rect x="143.5" y="227.5" width="4.0" height="43.0"/><rect x="147.5" y="240.5" width="109.5" height="30.0"/><rect x="257.0" y="227.5" width="3.0" height="43.0"/><rect x="260.0" y="240.5" width="196.5" height="30.0"/><rect x="456.5" y="227.5" width="3.9" height="43.0"/><rect x="460.4" y="240.5" width="0.0" height="30.0"/><rect x="467.5" y="240.5" width="203.5" height="30.0"/><rect x="671.0" y="227.5" width="3.0" height="43.0"/><rect x="674.0" y="240.5" width="126.0" height="30.0"/></clipPath></defs>
<polyline clip-path="url(#cTop)" points="2.0,202.5 6.8,202.5 13.9,202.5 22.0,202.4 30.3,202.4 37.6,202.4 43.0,202.5 46.2,202.6 48.1,202.6 49.0,202.7 49.5,202.9 49.8,203.1 50.6,203.4 51.6,203.8 52.5,204.4 53.3,205.0 54.1,205.7 55.0,206.4 56.0,207.2 57.1,208.0 58.4,209.0 59.6,209.9 61.0,210.9 62.5,211.9 64.0,212.8 65.7,213.7 67.5,214.6 69.4,215.4 71.3,216.2 73.2,216.9 75.0,217.5 76.6,217.9 78.1,218.3 79.6,218.5 81.1,218.7 82.6,218.9 84.4,219.0 86.4,219.1 88.7,219.3 91.1,219.4 93.4,219.4 95.6,219.4 97.5,219.4 99.1,219.3 100.4,219.2 101.6,219.0 102.7,218.8 103.8,218.6 105.0,218.4 106.2,218.1 107.5,217.8 108.8,217.5 110.0,217.2 111.2,216.9 112.5,216.6 113.8,216.3 115.1,216.0 116.5,215.8 117.8,215.5 119.0,215.4 120.0,215.3 120.8,215.3 121.4,215.3 121.9,215.3 122.4,215.5 123.0,215.9 123.8,216.6 124.7,217.6 125.7,218.9 126.9,220.4 128.1,221.9 129.5,223.5 131.0,225.0 132.8,226.5 134.9,228.1 137.1,229.7 139.2,231.2 141.1,232.5 142.5,233.4 143.3,233.6 143.7,232.9 143.8,232.1 143.8,231.6 143.8,231.9 144.0,233.6 144.4,237.3 144.9,242.7 145.4,249.0 145.9,255.3 146.4,260.7 147.0,264.4 147.6,265.0 148.1,265.0 148.8,265.0 149.4,265.0 150.0,265.0 150.6,264.4 151.2,263.7 151.8,262.7 152.4,261.5 153.0,260.2 153.7,258.7 154.4,257.0 155.2,255.1 156.1,252.8 157.1,250.4 158.1,248.0 159.0,245.7 160.0,243.8 161.0,242.1 162.0,240.5 163.0,239.1 163.9,237.9 164.8,236.9 165.6,236.2 166.3,236.0 166.8,236.0 167.3,236.3 167.7,236.8 168.1,237.3 168.5,237.8 168.9,238.1 169.1,238.5 169.4,238.9 169.7,239.5 170.0,240.1 170.3,241.0 170.7,242.0 171.2,243.2 171.6,244.4 172.1,245.9 172.6,247.5 173.0,249.4 173.2,251.7 173.2,254.6 173.2,257.6 173.2,260.5 173.6,263.0 175.0,264.8 177.5,265.0 180.9,265.0 184.8,265.0 188.9,265.0 192.6,265.0 195.6,264.8 197.9,264.4 199.7,263.9 201.2,263.4 202.6,262.7 203.8,262.1 205.0,261.6 206.2,261.2 207.1,260.9 208.0,260.6 208.9,260.2 209.7,259.6 210.6,258.8 211.6,257.6 212.6,256.1 213.6,254.4 214.6,252.7 215.5,251.0 216.3,249.4 217.0,247.9 217.6,246.5 218.2,245.1 218.7,243.7 219.2,242.3 219.7,241.0 220.3,239.7 220.8,238.4 221.3,237.2 221.9,236.0 222.4,234.7 222.9,233.4 223.4,232.1 223.8,230.7 224.3,229.4 224.7,227.9 225.2,226.5 225.6,225.0 226.0,223.5 226.4,221.9 226.7,220.3 227.1,218.6 227.5,216.9 228.0,215.0 228.5,212.9 228.9,210.4 229.3,207.9 229.9,205.5 230.8,203.4 232.0,202.0 233.7,202.0 236.0,202.0 238.4,202.0 240.9,202.0 243.2,202.0 245.0,202.0 246.3,203.1 247.3,204.5 248.1,206.2 248.7,208.1 249.3,210.0 250.0,212.0 250.7,214.0 251.4,216.3 252.0,218.6 252.6,220.9 253.2,223.1 253.8,225.0 254.4,226.4 255.1,227.3 255.8,228.1 256.4,229.1 257.0,230.7 257.5,233.4 257.8,237.7 257.9,243.3 257.9,249.6 258.0,255.8 258.5,261.1 259.4,264.8 261.0,265.0 263.1,265.0 265.6,265.0 268.1,265.0 270.5,265.0 272.5,264.8 274.1,263.0 275.5,260.5 276.8,257.7 277.9,254.6 279.0,251.8 280.0,249.5 280.9,247.7 281.7,246.3 282.4,245.0 283.1,243.8 283.8,242.5 284.7,241.0 285.7,239.2 286.9,237.2 288.1,235.1 289.3,233.1 290.4,231.3 291.2,229.8 291.9,228.7 292.3,228.0 292.6,227.5 292.9,227.1 293.4,226.6 294.0,226.0 294.9,225.2 296.1,224.3 297.3,223.3 298.5,222.4 299.7,221.7 300.6,221.4 301.3,221.4 301.8,221.7 302.3,222.2 302.7,222.9 303.1,223.5 303.5,224.2 303.9,224.8 304.3,225.4 304.6,226.1 305.1,226.8 305.6,227.8 306.2,228.9 307.1,230.4 308.2,232.1 309.4,234.1 310.6,236.0 311.8,237.7 312.8,239.2 313.6,240.3 314.3,241.2 315.0,241.9 315.7,242.6 316.5,243.2 317.5,243.9 318.9,244.7 320.5,245.5 322.3,246.3 324.0,247.0 325.6,247.6 326.9,248.0 327.8,248.3 328.5,248.5 329.0,248.6 329.4,248.5 329.9,248.1 330.6,247.3 331.4,246.0 332.4,244.3 333.4,242.3 334.4,240.2 335.4,238.1 336.3,236.4 337.1,235.0 337.9,233.8 338.7,232.6 339.5,231.5 340.2,230.3 341.0,229.0 341.8,227.6 342.5,226.3 343.3,224.8 344.1,223.3 344.8,221.5 345.6,219.5 346.1,216.9 346.3,213.8 346.5,210.5 347.1,207.3 348.2,204.5 350.3,202.6 353.8,202.0 358.5,202.0 363.8,202.0 369.1,202.0 373.9,202.0 377.6,202.2 380.0,202.4 381.5,202.6 382.4,202.8 383.1,203.1 383.9,203.3 385.0,203.6 386.5,203.9 388.1,204.1 389.7,204.4 391.3,204.7 392.9,205.0 394.4,205.4 395.8,205.8 397.2,206.3 398.6,206.8 399.8,207.3 401.0,207.8 402.0,208.2 402.8,208.6 403.3,208.9 403.7,209.2 404.2,209.6 404.8,210.2 405.7,211.0 407.0,212.3 408.5,213.9 410.3,215.7 412.0,217.5 413.6,219.1 415.0,220.4 416.1,221.3 416.9,221.8 417.6,222.2 418.3,222.5 419.1,222.8 420.0,223.3 421.1,223.9 422.2,224.5 423.4,225.2 424.6,225.8 426.0,226.4 427.5,227.0 429.2,227.5 431.0,228.1 433.0,228.6 435.0,229.0 436.9,229.5 438.8,229.8 440.4,230.1 442.0,230.2 443.5,230.3 445.0,230.4 446.5,230.6 448.0,230.8 449.6,231.0 451.2,231.3 452.8,231.7 454.3,232.0 455.6,232.3 456.6,232.6 457.2,232.5 457.4,231.9 457.4,231.3 457.4,231.0 457.4,231.7 457.5,233.6 457.8,237.5 458.3,243.1 458.7,249.6 459.2,256.0 459.8,261.4 460.3,265.0 460.9,265.0 461.5,265.0 462.1,265.0 462.8,265.0 463.4,264.2 464.0,261.7 464.6,257.9 465.1,252.7 465.6,246.7 466.1,240.7 466.6,235.4 467.0,231.7 467.3,229.8 467.5,229.1 467.6,229.1 467.8,229.5 468.1,229.5 468.8,228.9 469.7,227.5 470.9,225.7 472.3,223.7 473.7,221.6 475.1,219.5 476.3,217.6 477.4,215.8 478.4,213.9 479.3,212.1 480.2,210.3 481.1,208.7 481.9,207.3 482.4,206.1 482.4,205.0 482.4,204.1 482.7,203.4 483.7,202.7 485.7,202.2 489.2,202.0 494.1,202.0 499.6,202.0 505.2,202.0 510.1,202.1 513.8,202.2 516.0,202.4 517.3,202.5 517.9,202.7 518.2,202.9 518.6,203.2 519.4,203.6 520.5,204.1 521.7,204.7 523.0,205.3 524.3,206.0 525.6,206.7 527.0,207.3 528.5,208.0 530.0,208.7 531.7,209.4 533.3,210.0 534.8,210.6 536.3,211.0 537.7,211.3 539.1,211.4 540.4,211.5 541.6,211.5 542.8,211.5 543.8,211.4 544.6,211.3 545.2,211.0 545.7,210.8 546.2,210.5 546.8,210.2 547.6,210.0 548.7,209.8 549.9,209.7 551.3,209.5 552.7,209.4 553.9,209.3 555.0,209.2 555.8,209.1 556.5,209.0 557.1,208.9 557.7,208.8 558.2,208.8 558.8,208.8 559.3,208.9 559.6,209.0 560.0,209.2 560.5,209.4 561.3,209.6 562.6,209.8 564.5,209.8 567.0,209.8 569.8,209.7 572.7,209.7 575.5,209.8 578.0,210.0 580.2,210.4 582.2,210.9 584.2,211.5 586.0,212.1 587.7,212.7 589.3,213.2 590.6,213.7 591.6,214.1 592.5,214.5 593.4,214.9 594.5,215.3 596.0,215.5 597.9,215.7 600.2,215.7 602.6,215.7 605.1,215.7 607.4,215.6 609.5,215.5 611.3,215.3 612.9,215.2 614.4,214.9 615.8,214.6 617.2,214.3 618.5,213.9 619.8,213.4 620.9,212.9 622.0,212.3 623.1,211.6 624.2,211.0 625.3,210.5 626.4,210.0 627.5,209.4 628.6,208.9 629.8,208.4 630.9,208.1 632.0,207.8 633.1,207.7 634.3,207.7 635.4,207.8 636.5,207.9 637.7,208.1 638.8,208.2 639.9,208.4 641.0,208.6 642.1,208.8 643.2,209.0 644.3,209.2 645.6,209.4 647.0,209.6 648.6,209.8 650.3,210.0 651.9,210.1 653.3,210.3 654.6,210.5 655.6,210.7 656.4,210.8 657.1,210.9 657.7,211.1 658.3,211.3 659.0,211.6 659.8,212.0 660.6,212.5 661.4,213.1 662.1,213.7 662.9,214.3 663.6,215.0 664.2,215.7 664.8,216.3 665.4,217.0 665.9,217.8 666.4,218.6 667.0,219.5 667.6,220.6 668.2,221.8 668.8,223.1 669.4,224.4 670.0,225.5 670.4,226.3 670.7,226.4 670.9,225.8 671.0,225.0 671.1,224.6 671.3,225.2 671.5,227.4 671.6,231.9 671.6,238.5 671.6,246.1 671.6,253.6 672.3,260.1 673.7,264.6 676.2,265.0 679.7,265.0 683.6,265.0 687.7,265.0 691.3,265.0 694.0,264.6 695.7,263.4 696.8,261.7 697.5,259.7 698.0,257.5 698.6,255.3 699.6,253.3 700.9,251.3 702.3,249.3 703.9,247.2 705.5,245.3 707.1,243.5 708.6,242.0 710.2,240.8 711.8,239.8 713.4,239.1 714.9,238.5 716.4,237.9 717.6,237.5 718.6,237.2 719.4,237.0 720.1,236.9 720.7,236.9 721.3,236.9 722.0,237.0 722.8,237.1 723.6,237.4 724.4,237.6 725.2,237.9 726.0,238.3 726.6,238.6 727.1,238.9 727.5,239.1 727.8,239.4 728.1,239.8 728.5,240.2 729.0,240.9 729.7,241.9 730.5,243.1 731.4,244.4 732.2,245.8 732.9,246.9 733.4,247.7" fill="none" stroke="#00bfff" stroke-width="1.8" stroke-linejoin="round"/>
<polyline clip-path="url(#cMid)" points="2.0,202.5 6.8,202.5 13.9,202.5 22.0,202.4 30.3,202.4 37.6,202.4 43.0,202.5 46.2,202.6 48.1,202.6 49.0,202.7 49.5,202.9 49.8,203.1 50.6,203.4 51.6,203.8 52.5,204.4 53.3,205.0 54.1,205.7 55.0,206.4 56.0,207.2 57.1,208.0 58.4,209.0 59.6,209.9 61.0,210.9 62.5,211.9 64.0,212.8 65.7,213.7 67.5,214.6 69.4,215.4 71.3,216.2 73.2,216.9 75.0,217.5 76.6,217.9 78.1,218.3 79.6,218.5 81.1,218.7 82.6,218.9 84.4,219.0 86.4,219.1 88.7,219.3 91.1,219.4 93.4,219.4 95.6,219.4 97.5,219.4 99.1,219.3 100.4,219.2 101.6,219.0 102.7,218.8 103.8,218.6 105.0,218.4 106.2,218.1 107.5,217.8 108.8,217.5 110.0,217.2 111.2,216.9 112.5,216.6 113.8,216.3 115.1,216.0 116.5,215.8 117.8,215.5 119.0,215.4 120.0,215.3 120.8,215.3 121.4,215.3 121.9,215.3 122.4,215.5 123.0,215.9 123.8,216.6 124.7,217.6 125.7,218.9 126.9,220.4 128.1,221.9 129.5,223.5 131.0,225.0 132.8,226.5 134.9,228.1 137.1,229.7 139.2,231.2 141.1,232.5 142.5,233.4 143.3,233.6 143.7,232.9 143.8,232.1 143.8,231.6 143.8,231.9 144.0,233.6 144.4,237.3 144.9,242.7 145.4,249.0 145.9,255.3 146.4,260.7 147.0,264.4 147.6,265.0 148.1,265.0 148.8,265.0 149.4,265.0 150.0,265.0 150.6,264.4 151.2,263.7 151.8,262.7 152.4,261.5 153.0,260.2 153.7,258.7 154.4,257.0 155.2,255.1 156.1,252.8 157.1,250.4 158.1,248.0 159.0,245.7 160.0,243.8 161.0,242.1 162.0,240.5 163.0,239.1 163.9,237.9 164.8,236.9 165.6,236.2 166.3,236.0 166.8,236.0 167.3,236.3 167.7,236.8 168.1,237.3 168.5,237.8 168.9,238.1 169.1,238.5 169.4,238.9 169.7,239.5 170.0,240.1 170.3,241.0 170.7,242.0 171.2,243.2 171.6,244.4 172.1,245.9 172.6,247.5 173.0,249.4 173.2,251.7 173.2,254.6 173.2,257.6 173.2,260.5 173.6,263.0 175.0,264.8 177.5,265.0 180.9,265.0 184.8,265.0 188.9,265.0 192.6,265.0 195.6,264.8 197.9,264.4 199.7,263.9 201.2,263.4 202.6,262.7 203.8,262.1 205.0,261.6 206.2,261.2 207.1,260.9 208.0,260.6 208.9,260.2 209.7,259.6 210.6,258.8 211.6,257.6 212.6,256.1 213.6,254.4 214.6,252.7 215.5,251.0 216.3,249.4 217.0,247.9 217.6,246.5 218.2,245.1 218.7,243.7 219.2,242.3 219.7,241.0 220.3,239.7 220.8,238.4 221.3,237.2 221.9,236.0 222.4,234.7 222.9,233.4 223.4,232.1 223.8,230.7 224.3,229.4 224.7,227.9 225.2,226.5 225.6,225.0 226.0,223.5 226.4,221.9 226.7,220.3 227.1,218.6 227.5,216.9 228.0,215.0 228.5,212.9 228.9,210.4 229.3,207.9 229.9,205.5 230.8,203.4 232.0,202.0 233.7,202.0 236.0,202.0 238.4,202.0 240.9,202.0 243.2,202.0 245.0,202.0 246.3,203.1 247.3,204.5 248.1,206.2 248.7,208.1 249.3,210.0 250.0,212.0 250.7,214.0 251.4,216.3 252.0,218.6 252.6,220.9 253.2,223.1 253.8,225.0 254.4,226.4 255.1,227.3 255.8,228.1 256.4,229.1 257.0,230.7 257.5,233.4 257.8,237.7 257.9,243.3 257.9,249.6 258.0,255.8 258.5,261.1 259.4,264.8 261.0,265.0 263.1,265.0 265.6,265.0 268.1,265.0 270.5,265.0 272.5,264.8 274.1,263.0 275.5,260.5 276.8,257.7 277.9,254.6 279.0,251.8 280.0,249.5 280.9,247.7 281.7,246.3 282.4,245.0 283.1,243.8 283.8,242.5 284.7,241.0 285.7,239.2 286.9,237.2 288.1,235.1 289.3,233.1 290.4,231.3 291.2,229.8 291.9,228.7 292.3,228.0 292.6,227.5 292.9,227.1 293.4,226.6 294.0,226.0 294.9,225.2 296.1,224.3 297.3,223.3 298.5,222.4 299.7,221.7 300.6,221.4 301.3,221.4 301.8,221.7 302.3,222.2 302.7,222.9 303.1,223.5 303.5,224.2 303.9,224.8 304.3,225.4 304.6,226.1 305.1,226.8 305.6,227.8 306.2,228.9 307.1,230.4 308.2,232.1 309.4,234.1 310.6,236.0 311.8,237.7 312.8,239.2 313.6,240.3 314.3,241.2 315.0,241.9 315.7,242.6 316.5,243.2 317.5,243.9 318.9,244.7 320.5,245.5 322.3,246.3 324.0,247.0 325.6,247.6 326.9,248.0 327.8,248.3 328.5,248.5 329.0,248.6 329.4,248.5 329.9,248.1 330.6,247.3 331.4,246.0 332.4,244.3 333.4,242.3 334.4,240.2 335.4,238.1 336.3,236.4 337.1,235.0 337.9,233.8 338.7,232.6 339.5,231.5 340.2,230.3 341.0,229.0 341.8,227.6 342.5,226.3 343.3,224.8 344.1,223.3 344.8,221.5 345.6,219.5 346.1,216.9 346.3,213.8 346.5,210.5 347.1,207.3 348.2,204.5 350.3,202.6 353.8,202.0 358.5,202.0 363.8,202.0 369.1,202.0 373.9,202.0 377.6,202.2 380.0,202.4 381.5,202.6 382.4,202.8 383.1,203.1 383.9,203.3 385.0,203.6 386.5,203.9 388.1,204.1 389.7,204.4 391.3,204.7 392.9,205.0 394.4,205.4 395.8,205.8 397.2,206.3 398.6,206.8 399.8,207.3 401.0,207.8 402.0,208.2 402.8,208.6 403.3,208.9 403.7,209.2 404.2,209.6 404.8,210.2 405.7,211.0 407.0,212.3 408.5,213.9 410.3,215.7 412.0,217.5 413.6,219.1 415.0,220.4 416.1,221.3 416.9,221.8 417.6,222.2 418.3,222.5 419.1,222.8 420.0,223.3 421.1,223.9 422.2,224.5 423.4,225.2 424.6,225.8 426.0,226.4 427.5,227.0 429.2,227.5 431.0,228.1 433.0,228.6 435.0,229.0 436.9,229.5 438.8,229.8 440.4,230.1 442.0,230.2 443.5,230.3 445.0,230.4 446.5,230.6 448.0,230.8 449.6,231.0 451.2,231.3 452.8,231.7 454.3,232.0 455.6,232.3 456.6,232.6 457.2,232.5 457.4,231.9 457.4,231.3 457.4,231.0 457.4,231.7 457.5,233.6 457.8,237.5 458.3,243.1 458.7,249.6 459.2,256.0 459.8,261.4 460.3,265.0 460.9,265.0 461.5,265.0 462.1,265.0 462.8,265.0 463.4,264.2 464.0,261.7 464.6,257.9 465.1,252.7 465.6,246.7 466.1,240.7 466.6,235.4 467.0,231.7 467.3,229.8 467.5,229.1 467.6,229.1 467.8,229.5 468.1,229.5 468.8,228.9 469.7,227.5 470.9,225.7 472.3,223.7 473.7,221.6 475.1,219.5 476.3,217.6 477.4,215.8 478.4,213.9 479.3,212.1 480.2,210.3 481.1,208.7 481.9,207.3 482.4,206.1 482.4,205.0 482.4,204.1 482.7,203.4 483.7,202.7 485.7,202.2 489.2,202.0 494.1,202.0 499.6,202.0 505.2,202.0 510.1,202.1 513.8,202.2 516.0,202.4 517.3,202.5 517.9,202.7 518.2,202.9 518.6,203.2 519.4,203.6 520.5,204.1 521.7,204.7 523.0,205.3 524.3,206.0 525.6,206.7 527.0,207.3 528.5,208.0 530.0,208.7 531.7,209.4 533.3,210.0 534.8,210.6 536.3,211.0 537.7,211.3 539.1,211.4 540.4,211.5 541.6,211.5 542.8,211.5 543.8,211.4 544.6,211.3 545.2,211.0 545.7,210.8 546.2,210.5 546.8,210.2 547.6,210.0 548.7,209.8 549.9,209.7 551.3,209.5 552.7,209.4 553.9,209.3 555.0,209.2 555.8,209.1 556.5,209.0 557.1,208.9 557.7,208.8 558.2,208.8 558.8,208.8 559.3,208.9 559.6,209.0 560.0,209.2 560.5,209.4 561.3,209.6 562.6,209.8 564.5,209.8 567.0,209.8 569.8,209.7 572.7,209.7 575.5,209.8 578.0,210.0 580.2,210.4 582.2,210.9 584.2,211.5 586.0,212.1 587.7,212.7 589.3,213.2 590.6,213.7 591.6,214.1 592.5,214.5 593.4,214.9 594.5,215.3 596.0,215.5 597.9,215.7 600.2,215.7 602.6,215.7 605.1,215.7 607.4,215.6 609.5,215.5 611.3,215.3 612.9,215.2 614.4,214.9 615.8,214.6 617.2,214.3 618.5,213.9 619.8,213.4 620.9,212.9 622.0,212.3 623.1,211.6 624.2,211.0 625.3,210.5 626.4,210.0 627.5,209.4 628.6,208.9 629.8,208.4 630.9,208.1 632.0,207.8 633.1,207.7 634.3,207.7 635.4,207.8 636.5,207.9 637.7,208.1 638.8,208.2 639.9,208.4 641.0,208.6 642.1,208.8 643.2,209.0 644.3,209.2 645.6,209.4 647.0,209.6 648.6,209.8 650.3,210.0 651.9,210.1 653.3,210.3 654.6,210.5 655.6,210.7 656.4,210.8 657.1,210.9 657.7,211.1 658.3,211.3 659.0,211.6 659.8,212.0 660.6,212.5 661.4,213.1 662.1,213.7 662.9,214.3 663.6,215.0 664.2,215.7 664.8,216.3 665.4,217.0 665.9,217.8 666.4,218.6 667.0,219.5 667.6,220.6 668.2,221.8 668.8,223.1 669.4,224.4 670.0,225.5 670.4,226.3 670.7,226.4 670.9,225.8 671.0,225.0 671.1,224.6 671.3,225.2 671.5,227.4 671.6,231.9 671.6,238.5 671.6,246.1 671.6,253.6 672.3,260.1 673.7,264.6 676.2,265.0 679.7,265.0 683.6,265.0 687.7,265.0 691.3,265.0 694.0,264.6 695.7,263.4 696.8,261.7 697.5,259.7 698.0,257.5 698.6,255.3 699.6,253.3 700.9,251.3 702.3,249.3 703.9,247.2 705.5,245.3 707.1,243.5 708.6,242.0 710.2,240.8 711.8,239.8 713.4,239.1 714.9,238.5 716.4,237.9 717.6,237.5 718.6,237.2 719.4,237.0 720.1,236.9 720.7,236.9 721.3,236.9 722.0,237.0 722.8,237.1 723.6,237.4 724.4,237.6 725.2,237.9 726.0,238.3 726.6,238.6 727.1,238.9 727.5,239.1 727.8,239.4 728.1,239.8 728.5,240.2 729.0,240.9 729.7,241.9 730.5,243.1 731.4,244.4 732.2,245.8 732.9,246.9 733.4,247.7" fill="none" stroke="#505050" stroke-width="1.3" stroke-linejoin="round"/>
<polyline clip-path="url(#cBot)" points="2.0,202.5 6.8,202.5 13.9,202.5 22.0,202.4 30.3,202.4 37.6,202.4 43.0,202.5 46.2,202.6 48.1,202.6 49.0,202.7 49.5,202.9 49.8,203.1 50.6,203.4 51.6,203.8 52.5,204.4 53.3,205.0 54.1,205.7 55.0,206.4 56.0,207.2 57.1,208.0 58.4,209.0 59.6,209.9 61.0,210.9 62.5,211.9 64.0,212.8 65.7,213.7 67.5,214.6 69.4,215.4 71.3,216.2 73.2,216.9 75.0,217.5 76.6,217.9 78.1,218.3 79.6,218.5 81.1,218.7 82.6,218.9 84.4,219.0 86.4,219.1 88.7,219.3 91.1,219.4 93.4,219.4 95.6,219.4 97.5,219.4 99.1,219.3 100.4,219.2 101.6,219.0 102.7,218.8 103.8,218.6 105.0,218.4 106.2,218.1 107.5,217.8 108.8,217.5 110.0,217.2 111.2,216.9 112.5,216.6 113.8,216.3 115.1,216.0 116.5,215.8 117.8,215.5 119.0,215.4 120.0,215.3 120.8,215.3 121.4,215.3 121.9,215.3 122.4,215.5 123.0,215.9 123.8,216.6 124.7,217.6 125.7,218.9 126.9,220.4 128.1,221.9 129.5,223.5 131.0,225.0 132.8,226.5 134.9,228.1 137.1,229.7 139.2,231.2 141.1,232.5 142.5,233.4 143.3,233.6 143.7,232.9 143.8,232.1 143.8,231.6 143.8,231.9 144.0,233.6 144.4,237.3 144.9,242.7 145.4,249.0 145.9,255.3 146.4,260.7 147.0,264.4 147.6,265.0 148.1,265.0 148.8,265.0 149.4,265.0 150.0,265.0 150.6,264.4 151.2,263.7 151.8,262.7 152.4,261.5 153.0,260.2 153.7,258.7 154.4,257.0 155.2,255.1 156.1,252.8 157.1,250.4 158.1,248.0 159.0,245.7 160.0,243.8 161.0,242.1 162.0,240.5 163.0,239.1 163.9,237.9 164.8,236.9 165.6,236.2 166.3,236.0 166.8,236.0 167.3,236.3 167.7,236.8 168.1,237.3 168.5,237.8 168.9,238.1 169.1,238.5 169.4,238.9 169.7,239.5 170.0,240.1 170.3,241.0 170.7,242.0 171.2,243.2 171.6,244.4 172.1,245.9 172.6,247.5 173.0,249.4 173.2,251.7 173.2,254.6 173.2,257.6 173.2,260.5 173.6,263.0 175.0,264.8 177.5,265.0 180.9,265.0 184.8,265.0 188.9,265.0 192.6,265.0 195.6,264.8 197.9,264.4 199.7,263.9 201.2,263.4 202.6,262.7 203.8,262.1 205.0,261.6 206.2,261.2 207.1,260.9 208.0,260.6 208.9,260.2 209.7,259.6 210.6,258.8 211.6,257.6 212.6,256.1 213.6,254.4 214.6,252.7 215.5,251.0 216.3,249.4 217.0,247.9 217.6,246.5 218.2,245.1 218.7,243.7 219.2,242.3 219.7,241.0 220.3,239.7 220.8,238.4 221.3,237.2 221.9,236.0 222.4,234.7 222.9,233.4 223.4,232.1 223.8,230.7 224.3,229.4 224.7,227.9 225.2,226.5 225.6,225.0 226.0,223.5 226.4,221.9 226.7,220.3 227.1,218.6 227.5,216.9 228.0,215.0 228.5,212.9 228.9,210.4 229.3,207.9 229.9,205.5 230.8,203.4 232.0,202.0 233.7,202.0 236.0,202.0 238.4,202.0 240.9,202.0 243.2,202.0 245.0,202.0 246.3,203.1 247.3,204.5 248.1,206.2 248.7,208.1 249.3,210.0 250.0,212.0 250.7,214.0 251.4,216.3 252.0,218.6 252.6,220.9 253.2,223.1 253.8,225.0 254.4,226.4 255.1,227.3 255.8,228.1 256.4,229.1 257.0,230.7 257.5,233.4 257.8,237.7 257.9,243.3 257.9,249.6 258.0,255.8 258.5,261.1 259.4,264.8 261.0,265.0 263.1,265.0 265.6,265.0 268.1,265.0 270.5,265.0 272.5,264.8 274.1,263.0 275.5,260.5 276.8,257.7 277.9,254.6 279.0,251.8 280.0,249.5 280.9,247.7 281.7,246.3 282.4,245.0 283.1,243.8 283.8,242.5 284.7,241.0 285.7,239.2 286.9,237.2 288.1,235.1 289.3,233.1 290.4,231.3 291.2,229.8 291.9,228.7 292.3,228.0 292.6,227.5 292.9,227.1 293.4,226.6 294.0,226.0 294.9,225.2 296.1,224.3 297.3,223.3 298.5,222.4 299.7,221.7 300.6,221.4 301.3,221.4 301.8,221.7 302.3,222.2 302.7,222.9 303.1,223.5 303.5,224.2 303.9,224.8 304.3,225.4 304.6,226.1 305.1,226.8 305.6,227.8 306.2,228.9 307.1,230.4 308.2,232.1 309.4,234.1 310.6,236.0 311.8,237.7 312.8,239.2 313.6,240.3 314.3,241.2 315.0,241.9 315.7,242.6 316.5,243.2 317.5,243.9 318.9,244.7 320.5,245.5 322.3,246.3 324.0,247.0 325.6,247.6 326.9,248.0 327.8,248.3 328.5,248.5 329.0,248.6 329.4,248.5 329.9,248.1 330.6,247.3 331.4,246.0 332.4,244.3 333.4,242.3 334.4,240.2 335.4,238.1 336.3,236.4 337.1,235.0 337.9,233.8 338.7,232.6 339.5,231.5 340.2,230.3 341.0,229.0 341.8,227.6 342.5,226.3 343.3,224.8 344.1,223.3 344.8,221.5 345.6,219.5 346.1,216.9 346.3,213.8 346.5,210.5 347.1,207.3 348.2,204.5 350.3,202.6 353.8,202.0 358.5,202.0 363.8,202.0 369.1,202.0 373.9,202.0 377.6,202.2 380.0,202.4 381.5,202.6 382.4,202.8 383.1,203.1 383.9,203.3 385.0,203.6 386.5,203.9 388.1,204.1 389.7,204.4 391.3,204.7 392.9,205.0 394.4,205.4 395.8,205.8 397.2,206.3 398.6,206.8 399.8,207.3 401.0,207.8 402.0,208.2 402.8,208.6 403.3,208.9 403.7,209.2 404.2,209.6 404.8,210.2 405.7,211.0 407.0,212.3 408.5,213.9 410.3,215.7 412.0,217.5 413.6,219.1 415.0,220.4 416.1,221.3 416.9,221.8 417.6,222.2 418.3,222.5 419.1,222.8 420.0,223.3 421.1,223.9 422.2,224.5 423.4,225.2 424.6,225.8 426.0,226.4 427.5,227.0 429.2,227.5 431.0,228.1 433.0,228.6 435.0,229.0 436.9,229.5 438.8,229.8 440.4,230.1 442.0,230.2 443.5,230.3 445.0,230.4 446.5,230.6 448.0,230.8 449.6,231.0 451.2,231.3 452.8,231.7 454.3,232.0 455.6,232.3 456.6,232.6 457.2,232.5 457.4,231.9 457.4,231.3 457.4,231.0 457.4,231.7 457.5,233.6 457.8,237.5 458.3,243.1 458.7,249.6 459.2,256.0 459.8,261.4 460.3,265.0 460.9,265.0 461.5,265.0 462.1,265.0 462.8,265.0 463.4,264.2 464.0,261.7 464.6,257.9 465.1,252.7 465.6,246.7 466.1,240.7 466.6,235.4 467.0,231.7 467.3,229.8 467.5,229.1 467.6,229.1 467.8,229.5 468.1,229.5 468.8,228.9 469.7,227.5 470.9,225.7 472.3,223.7 473.7,221.6 475.1,219.5 476.3,217.6 477.4,215.8 478.4,213.9 479.3,212.1 480.2,210.3 481.1,208.7 481.9,207.3 482.4,206.1 482.4,205.0 482.4,204.1 482.7,203.4 483.7,202.7 485.7,202.2 489.2,202.0 494.1,202.0 499.6,202.0 505.2,202.0 510.1,202.1 513.8,202.2 516.0,202.4 517.3,202.5 517.9,202.7 518.2,202.9 518.6,203.2 519.4,203.6 520.5,204.1 521.7,204.7 523.0,205.3 524.3,206.0 525.6,206.7 527.0,207.3 528.5,208.0 530.0,208.7 531.7,209.4 533.3,210.0 534.8,210.6 536.3,211.0 537.7,211.3 539.1,211.4 540.4,211.5 541.6,211.5 542.8,211.5 543.8,211.4 544.6,211.3 545.2,211.0 545.7,210.8 546.2,210.5 546.8,210.2 547.6,210.0 548.7,209.8 549.9,209.7 551.3,209.5 552.7,209.4 553.9,209.3 555.0,209.2 555.8,209.1 556.5,209.0 557.1,208.9 557.7,208.8 558.2,208.8 558.8,208.8 559.3,208.9 559.6,209.0 560.0,209.2 560.5,209.4 561.3,209.6 562.6,209.8 564.5,209.8 567.0,209.8 569.8,209.7 572.7,209.7 575.5,209.8 578.0,210.0 580.2,210.4 582.2,210.9 584.2,211.5 586.0,212.1 587.7,212.7 589.3,213.2 590.6,213.7 591.6,214.1 592.5,214.5 593.4,214.9 594.5,215.3 596.0,215.5 597.9,215.7 600.2,215.7 602.6,215.7 605.1,215.7 607.4,215.6 609.5,215.5 611.3,215.3 612.9,215.2 614.4,214.9 615.8,214.6 617.2,214.3 618.5,213.9 619.8,213.4 620.9,212.9 622.0,212.3 623.1,211.6 624.2,211.0 625.3,210.5 626.4,210.0 627.5,209.4 628.6,208.9 629.8,208.4 630.9,208.1 632.0,207.8 633.1,207.7 634.3,207.7 635.4,207.8 636.5,207.9 637.7,208.1 638.8,208.2 639.9,208.4 641.0,208.6 642.1,208.8 643.2,209.0 644.3,209.2 645.6,209.4 647.0,209.6 648.6,209.8 650.3,210.0 651.9,210.1 653.3,210.3 654.6,210.5 655.6,210.7 656.4,210.8 657.1,210.9 657.7,211.1 658.3,211.3 659.0,211.6 659.8,212.0 660.6,212.5 661.4,213.1 662.1,213.7 662.9,214.3 663.6,215.0 664.2,215.7 664.8,216.3 665.4,217.0 665.9,217.8 666.4,218.6 667.0,219.5 667.6,220.6 668.2,221.8 668.8,223.1 669.4,224.4 670.0,225.5 670.4,226.3 670.7,226.4 670.9,225.8 671.0,225.0 671.1,224.6 671.3,225.2 671.5,227.4 671.6,231.9 671.6,238.5 671.6,246.1 671.6,253.6 672.3,260.1 673.7,264.6 676.2,265.0 679.7,265.0 683.6,265.0 687.7,265.0 691.3,265.0 694.0,264.6 695.7,263.4 696.8,261.7 697.5,259.7 698.0,257.5 698.6,255.3 699.6,253.3 700.9,251.3 702.3,249.3 703.9,247.2 705.5,245.3 707.1,243.5 708.6,242.0 710.2,240.8 711.8,239.8 713.4,239.1 714.9,238.5 716.4,237.9 717.6,237.5 718.6,237.2 719.4,237.0 720.1,236.9 720.7,236.9 721.3,236.9 722.0,237.0 722.8,237.1 723.6,237.4 724.4,237.6 725.2,237.9 726.0,238.3 726.6,238.6 727.1,238.9 727.5,239.1 727.8,239.4 728.1,239.8 728.5,240.2 729.0,240.9 729.7,241.9 730.5,243.1 731.4,244.4 732.2,245.8 732.9,246.9 733.4,247.7" fill="none" stroke="#ff1493" stroke-width="1.8" stroke-linejoin="round"/>
<g>
<rect x="2.00" y="270" width="2.55" height="34" fill="#32cd32"/>
<rect x="5.14" y="270" width="2.55" height="34" fill="#32cd32"/>
<rect x="8.28" y="270" width="2.55" height="34" fill="#32cd32"/>
<rect x="11.41" y="270" width="2.55" height="34" fill="#32cd32"/>
<rect x="14.55" y="270" width="2.55" height="34" fill="#32cd32"/>
<rect x="17.69" y="270" width="2.55" height="34" fill="#32cd32"/>
<rect x="20.83" y="270" width="2.55" height="34" fill="#32cd32"/>
<rect x="23.96" y="270" width="2.55" height="34" fill="#32cd32"/>
<rect x="27.10" y="270" width="2.55" height="34" fill="#32cd32"/>
<rect x="30.24" y="270" width="2.55" height="34" fill="#32cd32"/>
<rect x="33.38" y="270" width="2.55" height="34" fill="#32cd32"/>
<rect x="36.51" y="270" width="2.55" height="34" fill="#32cd32"/>
<rect x="39.65" y="270" width="2.55" height="34" fill="#32cd32"/>
<rect x="42.79" y="270" width="2.55" height="34" fill="#32cd32"/>
<rect x="45.93" y="270" width="2.55" height="34" fill="#32cd32"/>
<rect x="49.06" y="270" width="2.55" height="34" fill="#32cd32"/>
<rect x="52.20" y="270" width="2.55" height="34" fill="#32cd32"/>
<rect x="55.34" y="270" width="2.55" height="34" fill="#8b0000"/>
<rect x="58.48" y="270" width="2.55" height="34" fill="#8b0000"/>
<rect x="61.61" y="270" width="2.55" height="34" fill="#8b0000"/>
<rect x="64.75" y="270" width="2.55" height="34" fill="#8b0000"/>
<rect x="67.89" y="270" width="2.55" height="34" fill="#32cd32"/>
<rect x="71.03" y="270" width="2.55" height="34" fill="#32cd32"/>
<rect x="74.16" y="270" width="2.55" height="34" fill="#32cd32"/>
<rect x="77.30" y="270" width="2.55" height="34" fill="#32cd32"/>
<rect x="80.44" y="270" width="2.55" height="34" fill="#32cd32"/>
<rect x="83.58" y="270" width="2.55" height="34" fill="#32cd32"/>
<rect x="86.71" y="270" width="2.55" height="34" fill="#32cd32"/>
<rect x="89.85" y="270" width="2.55" height="34" fill="#32cd32"/>
<rect x="92.99" y="270" width="2.55" height="34" fill="#32cd32"/>
<rect x="96.12" y="270" width="2.55" height="34" fill="#32cd32"/>
<rect x="99.26" y="270" width="2.55" height="34" fill="#32cd32"/>
<rect x="102.40" y="270" width="2.55" height="34" fill="#32cd32"/>
<rect x="105.54" y="270" width="2.55" height="34" fill="#32cd32"/>
<rect x="108.68" y="270" width="2.55" height="34" fill="#32cd32"/>
<rect x="111.81" y="270" width="2.55" height="34" fill="#32cd32"/>
<rect x="114.95" y="270" width="2.55" height="34" fill="#8b0000"/>
<rect x="118.09" y="270" width="2.55" height="34" fill="#8b0000"/>
<rect x="121.23" y="270" width="2.55" height="34" fill="#8b0000"/>
<rect x="124.36" y="270" width="2.55" height="34" fill="#ff0000"/>
<rect x="127.50" y="270" width="2.55" height="34" fill="#ff0000"/>
<rect x="130.64" y="270" width="2.55" height="34" fill="#ff0000"/>
<rect x="133.78" y="270" width="2.55" height="34" fill="#ff0000"/>
<rect x="136.91" y="270" width="2.55" height="34" fill="#ff0000"/>
<rect x="140.05" y="270" width="2.55" height="34" fill="#ff0000"/>
<rect x="143.19" y="270" width="2.55" height="34" fill="#ff0000"/>
<rect x="146.33" y="270" width="2.55" height="34" fill="#8b0000"/>
<rect x="149.46" y="270" width="2.55" height="34" fill="#32cd32"/>
<rect x="152.60" y="270" width="2.55" height="34" fill="#32cd32"/>
<rect x="155.74" y="270" width="2.55" height="34" fill="#8b0000"/>
<rect x="158.88" y="270" width="2.55" height="34" fill="#8b0000"/>
<rect x="162.01" y="270" width="2.55" height="34" fill="#8b0000"/>
<rect x="165.15" y="270" width="2.55" height="34" fill="#8b0000"/>
<rect x="168.29" y="270" width="2.55" height="34" fill="#8b0000"/>
<rect x="171.43" y="270" width="2.55" height="34" fill="#8b0000"/>
<rect x="174.56" y="270" width="2.55" height="34" fill="#ff0000"/>
<rect x="177.70" y="270" width="2.55" height="34" fill="#ff0000"/>
<rect x="180.84" y="270" width="2.55" height="34" fill="#8b0000"/>
<rect x="183.98" y="270" width="2.55" height="34" fill="#8b0000"/>
<rect x="187.11" y="270" width="2.55" height="34" fill="#8b0000"/>
<rect x="190.25" y="270" width="2.55" height="34" fill="#8b0000"/>
<rect x="193.39" y="270" width="2.55" height="34" fill="#8b0000"/>
<rect x="196.53" y="270" width="2.55" height="34" fill="#32cd32"/>
<rect x="199.66" y="270" width="2.55" height="34" fill="#32cd32"/>
<rect x="202.80" y="270" width="2.55" height="34" fill="#32cd32"/>
<rect x="205.94" y="270" width="2.55" height="34" fill="#32cd32"/>
<rect x="209.08" y="270" width="2.55" height="34" fill="#32cd32"/>
<rect x="212.21" y="270" width="2.55" height="34" fill="#32cd32"/>
<rect x="215.35" y="270" width="2.55" height="34" fill="#32cd32"/>
<rect x="218.49" y="270" width="2.55" height="34" fill="#32cd32"/>
<rect x="221.62" y="270" width="2.55" height="34" fill="#32cd32"/>
<rect x="224.76" y="270" width="2.55" height="34" fill="#32cd32"/>
<rect x="227.90" y="270" width="2.55" height="34" fill="#32cd32"/>
<rect x="231.04" y="270" width="2.55" height="34" fill="#32cd32"/>
<rect x="234.18" y="270" width="2.55" height="34" fill="#32cd32"/>
<rect x="237.31" y="270" width="2.55" height="34" fill="#32cd32"/>
<rect x="240.45" y="270" width="2.55" height="34" fill="#32cd32"/>
<rect x="243.59" y="270" width="2.55" height="34" fill="#8b0000"/>
<rect x="246.73" y="270" width="2.55" height="34" fill="#ff0000"/>
<rect x="249.86" y="270" width="2.55" height="34" fill="#ff0000"/>
<rect x="253.00" y="270" width="2.55" height="34" fill="#ff0000"/>
<rect x="256.14" y="270" width="2.55" height="34" fill="#ff0000"/>
<rect x="259.28" y="270" width="2.55" height="34" fill="#ff0000"/>
<rect x="262.41" y="270" width="2.55" height="34" fill="#ff0000"/>
<rect x="265.55" y="270" width="2.55" height="34" fill="#ff0000"/>
<rect x="268.69" y="270" width="2.55" height="34" fill="#ff0000"/>
<rect x="271.82" y="270" width="2.55" height="34" fill="#ff0000"/>
<rect x="274.96" y="270" width="2.55" height="34" fill="#32cd32"/>
<rect x="278.10" y="270" width="2.55" height="34" fill="#32cd32"/>
<rect x="281.24" y="270" width="2.55" height="34" fill="#32cd32"/>
<rect x="284.38" y="270" width="2.55" height="34" fill="#32cd32"/>
<rect x="287.51" y="270" width="2.55" height="34" fill="#32cd32"/>
<rect x="290.65" y="270" width="2.55" height="34" fill="#32cd32"/>
<rect x="293.79" y="270" width="2.55" height="34" fill="#32cd32"/>
<rect x="296.93" y="270" width="2.55" height="34" fill="#32cd32"/>
<rect x="300.06" y="270" width="2.55" height="34" fill="#32cd32"/>
<rect x="303.20" y="270" width="2.55" height="34" fill="#ff0000"/>
<rect x="306.34" y="270" width="2.55" height="34" fill="#ff0000"/>
<rect x="309.48" y="270" width="2.55" height="34" fill="#ff0000"/>
<rect x="312.61" y="270" width="2.55" height="34" fill="#ff0000"/>
<rect x="315.75" y="270" width="2.55" height="34" fill="#ff0000"/>
<rect x="318.89" y="270" width="2.55" height="34" fill="#ff0000"/>
<rect x="322.03" y="270" width="2.55" height="34" fill="#007800"/>
<rect x="325.16" y="270" width="2.55" height="34" fill="#007800"/>
<rect x="328.30" y="270" width="2.55" height="34" fill="#007800"/>
<rect x="331.44" y="270" width="2.55" height="34" fill="#32cd32"/>
<rect x="334.58" y="270" width="2.55" height="34" fill="#32cd32"/>
<rect x="337.71" y="270" width="2.55" height="34" fill="#32cd32"/>
<rect x="340.85" y="270" width="2.55" height="34" fill="#32cd32"/>
<rect x="343.99" y="270" width="2.55" height="34" fill="#32cd32"/>
<rect x="347.12" y="270" width="2.55" height="34" fill="#32cd32"/>
<rect x="350.26" y="270" width="2.55" height="34" fill="#32cd32"/>
<rect x="353.40" y="270" width="2.55" height="34" fill="#32cd32"/>
<rect x="356.54" y="270" width="2.55" height="34" fill="#32cd32"/>
<rect x="359.68" y="270" width="2.55" height="34" fill="#32cd32"/>
<rect x="362.81" y="270" width="2.55" height="34" fill="#32cd32"/>
<rect x="365.95" y="270" width="2.55" height="34" fill="#32cd32"/>
<rect x="369.09" y="270" width="2.55" height="34" fill="#32cd32"/>
<rect x="372.23" y="270" width="2.55" height="34" fill="#32cd32"/>
<rect x="375.36" y="270" width="2.55" height="34" fill="#32cd32"/>
<rect x="378.50" y="270" width="2.55" height="34" fill="#32cd32"/>
<rect x="381.64" y="270" width="2.55" height="34" fill="#32cd32"/>
<rect x="384.78" y="270" width="2.55" height="34" fill="#32cd32"/>
<rect x="387.91" y="270" width="2.55" height="34" fill="#32cd32"/>
<rect x="391.05" y="270" width="2.55" height="34" fill="#32cd32"/>
<rect x="394.19" y="270" width="2.55" height="34" fill="#32cd32"/>
<rect x="397.33" y="270" width="2.55" height="34" fill="#32cd32"/>
<rect x="400.46" y="270" width="2.55" height="34" fill="#8b0000"/>
<rect x="403.60" y="270" width="2.55" height="34" fill="#ff0000"/>
<rect x="406.74" y="270" width="2.55" height="34" fill="#ff0000"/>
<rect x="409.88" y="270" width="2.55" height="34" fill="#ff0000"/>
<rect x="413.01" y="270" width="2.55" height="34" fill="#007800"/>
<rect x="416.15" y="270" width="2.55" height="34" fill="#007800"/>
<rect x="419.29" y="270" width="2.55" height="34" fill="#32cd32"/>
<rect x="422.43" y="270" width="2.55" height="34" fill="#32cd32"/>
<rect x="425.56" y="270" width="2.55" height="34" fill="#32cd32"/>
<rect x="428.70" y="270" width="2.55" height="34" fill="#32cd32"/>
<rect x="431.84" y="270" width="2.55" height="34" fill="#32cd32"/>
<rect x="434.98" y="270" width="2.55" height="34" fill="#32cd32"/>
<rect x="438.11" y="270" width="2.55" height="34" fill="#32cd32"/>
<rect x="441.25" y="270" width="2.55" height="34" fill="#32cd32"/>
<rect x="444.39" y="270" width="2.55" height="34" fill="#007800"/>
<rect x="447.53" y="270" width="2.55" height="34" fill="#007800"/>
<rect x="450.66" y="270" width="2.55" height="34" fill="#007800"/>
<rect x="453.80" y="270" width="2.55" height="34" fill="#ff0000"/>
<rect x="456.94" y="270" width="2.55" height="34" fill="#ff0000"/>
<rect x="460.08" y="270" width="2.55" height="34" fill="#32cd32"/>
<rect x="463.21" y="270" width="2.55" height="34" fill="#32cd32"/>
<rect x="466.35" y="270" width="2.55" height="34" fill="#32cd32"/>
<rect x="469.49" y="270" width="2.55" height="34" fill="#32cd32"/>
<rect x="472.62" y="270" width="2.55" height="34" fill="#32cd32"/>
<rect x="475.76" y="270" width="2.55" height="34" fill="#32cd32"/>
<rect x="478.90" y="270" width="2.55" height="34" fill="#32cd32"/>
<rect x="482.04" y="270" width="2.55" height="34" fill="#32cd32"/>
<rect x="485.18" y="270" width="2.55" height="34" fill="#32cd32"/>
<rect x="488.31" y="270" width="2.55" height="34" fill="#32cd32"/>
<rect x="491.45" y="270" width="2.55" height="34" fill="#32cd32"/>
<rect x="494.59" y="270" width="2.55" height="34" fill="#32cd32"/>
<rect x="497.73" y="270" width="2.55" height="34" fill="#32cd32"/>
<rect x="500.86" y="270" width="2.55" height="34" fill="#32cd32"/>
<rect x="504.00" y="270" width="2.55" height="34" fill="#32cd32"/>
<rect x="507.14" y="270" width="2.55" height="34" fill="#32cd32"/>
<rect x="510.28" y="270" width="2.55" height="34" fill="#32cd32"/>
<rect x="513.41" y="270" width="2.55" height="34" fill="#32cd32"/>
<rect x="516.55" y="270" width="2.55" height="34" fill="#32cd32"/>
<rect x="519.69" y="270" width="2.55" height="34" fill="#32cd32"/>
<rect x="522.83" y="270" width="2.55" height="34" fill="#32cd32"/>
<rect x="525.96" y="270" width="2.55" height="34" fill="#32cd32"/>
<rect x="529.10" y="270" width="2.55" height="34" fill="#32cd32"/>
<rect x="532.24" y="270" width="2.55" height="34" fill="#32cd32"/>
<rect x="535.38" y="270" width="2.55" height="34" fill="#32cd32"/>
<rect x="538.51" y="270" width="2.55" height="34" fill="#32cd32"/>
<rect x="541.65" y="270" width="2.55" height="34" fill="#32cd32"/>
<rect x="544.79" y="270" width="2.55" height="34" fill="#32cd32"/>
<rect x="547.93" y="270" width="2.55" height="34" fill="#32cd32"/>
<rect x="551.06" y="270" width="2.55" height="34" fill="#32cd32"/>
<rect x="554.20" y="270" width="2.55" height="34" fill="#32cd32"/>
<rect x="557.34" y="270" width="2.55" height="34" fill="#8b0000"/>
<rect x="560.48" y="270" width="2.55" height="34" fill="#8b0000"/>
<rect x="563.61" y="270" width="2.55" height="34" fill="#8b0000"/>
<rect x="566.75" y="270" width="2.55" height="34" fill="#8b0000"/>
<rect x="569.89" y="270" width="2.55" height="34" fill="#32cd32"/>
<rect x="573.02" y="270" width="2.55" height="34" fill="#32cd32"/>
<rect x="576.16" y="270" width="2.55" height="34" fill="#32cd32"/>
<rect x="579.30" y="270" width="2.55" height="34" fill="#8b0000"/>
<rect x="582.44" y="270" width="2.55" height="34" fill="#8b0000"/>
<rect x="585.58" y="270" width="2.55" height="34" fill="#ff0000"/>
<rect x="588.71" y="270" width="2.55" height="34" fill="#ff0000"/>
<rect x="591.85" y="270" width="2.55" height="34" fill="#ff0000"/>
<rect x="594.99" y="270" width="2.55" height="34" fill="#8b0000"/>
<rect x="598.12" y="270" width="2.55" height="34" fill="#8b0000"/>
<rect x="601.26" y="270" width="2.55" height="34" fill="#32cd32"/>
<rect x="604.40" y="270" width="2.55" height="34" fill="#32cd32"/>
<rect x="607.54" y="270" width="2.55" height="34" fill="#8b0000"/>
<rect x="610.68" y="270" width="2.55" height="34" fill="#8b0000"/>
<rect x="613.81" y="270" width="2.55" height="34" fill="#8b0000"/>
<rect x="616.95" y="270" width="2.55" height="34" fill="#8b0000"/>
<rect x="620.09" y="270" width="2.55" height="34" fill="#8b0000"/>
<rect x="623.23" y="270" width="2.55" height="34" fill="#8b0000"/>
<rect x="626.36" y="270" width="2.55" height="34" fill="#8b0000"/>
<rect x="629.50" y="270" width="2.55" height="34" fill="#8b0000"/>
<rect x="632.64" y="270" width="2.55" height="34" fill="#8b0000"/>
<rect x="635.78" y="270" width="2.55" height="34" fill="#8b0000"/>
<rect x="638.91" y="270" width="2.55" height="34" fill="#8b0000"/>
<rect x="642.05" y="270" width="2.55" height="34" fill="#8b0000"/>
<rect x="645.19" y="270" width="2.55" height="34" fill="#8b0000"/>
<rect x="648.33" y="270" width="2.55" height="34" fill="#8b0000"/>
<rect x="651.46" y="270" width="2.55" height="34" fill="#8b0000"/>
<rect x="654.60" y="270" width="2.55" height="34" fill="#8b0000"/>
<rect x="657.74" y="270" width="2.55" height="34" fill="#8b0000"/>
<rect x="660.88" y="270" width="2.55" height="34" fill="#ff0000"/>
<rect x="664.01" y="270" width="2.55" height="34" fill="#ff0000"/>
<rect x="667.15" y="270" width="2.55" height="34" fill="#ff0000"/>
<rect x="670.29" y="270" width="2.55" height="34" fill="#ff0000"/>
<rect x="673.43" y="270" width="2.55" height="34" fill="#ff0000"/>
<rect x="676.56" y="270" width="2.55" height="34" fill="#ff0000"/>
<rect x="679.70" y="270" width="2.55" height="34" fill="#ff0000"/>
<rect x="682.84" y="270" width="2.55" height="34" fill="#ff0000"/>
<rect x="685.98" y="270" width="2.55" height="34" fill="#ff0000"/>
<rect x="689.11" y="270" width="2.55" height="34" fill="#ff0000"/>
<rect x="692.25" y="270" width="2.55" height="34" fill="#ff0000"/>
<rect x="695.39" y="270" width="2.55" height="34" fill="#ff0000"/>
<rect x="698.53" y="270" width="2.55" height="34" fill="#32cd32"/>
<rect x="701.66" y="270" width="2.55" height="34" fill="#32cd32"/>
<rect x="704.80" y="270" width="2.55" height="34" fill="#ff0000"/>
<rect x="707.94" y="270" width="2.55" height="34" fill="#ff0000"/>
<rect x="711.08" y="270" width="2.55" height="34" fill="#ff0000"/>
<rect x="714.21" y="270" width="2.55" height="34" fill="#ff0000"/>
<rect x="717.35" y="270" width="2.55" height="34" fill="#ff0000"/>
<rect x="720.49" y="270" width="2.55" height="34" fill="#ff0000"/>
<rect x="723.62" y="270" width="2.55" height="34" fill="#ff0000"/>
<rect x="726.76" y="270" width="2.55" height="34" fill="#ff0000"/>
<rect x="729.90" y="270" width="2.55" height="34" fill="#ff0000"/>
<rect x="733.04" y="270" width="2.55" height="34" fill="#ff0000"/>
<rect x="2" y="270" width="734" height="1" fill="#c8c8c8" fill-opacity="0.45"/>
<rect x="2" y="303" width="734" height="1" fill="#000" fill-opacity="0.75"/>
</g>
<line x1="2.81" y1="340.5" x2="766" y2="340.5" stroke="#c8c0c0" stroke-width="1" stroke-dasharray="2.4 2.3"/>
<polyline points="2.2,328.0 11.2,328.0 18.0,333.8 21.4,333.8 24.8,321.9 29.3,320.8 36.0,322.6 41.7,325.3 49.5,325.3 55.2,330.2 65.3,327.5 72.0,323.0 80.0,320.8 83.3,318.0 95.7,318.0 100.2,320.8 103.6,319.6 108.0,315.0 112.6,315.0 117.0,324.0 121.6,327.5 125.0,350.0 131.8,350.0 135.0,346.7 140.8,345.5 147.5,332.0 152.0,328.6 155.4,334.3 163.3,334.3 171.0,338.8 174.5,350.0 178.0,350.0 180.0,338.8 183.0,333.0 185.0,335.0 190.0,337.0 200.0,337.5 210.0,337.5 213.0,329.0 218.0,328.0 220.0,325.0 228.0,325.0 232.0,318.0 235.0,320.0 240.0,320.0 243.0,330.0 247.0,345.0 252.0,347.0 255.0,350.0 258.0,357.0 262.0,363.0 265.0,367.0 270.0,368.0 273.0,355.0 275.0,337.0 278.0,331.0 283.0,330.0 300.0,330.0 303.0,348.5 313.0,348.5 318.0,347.0 328.0,347.0 332.0,320.0 358.0,320.0 363.0,327.5 378.0,328.0 390.0,328.0 393.4,331.6 399.0,332.0 401.3,336.5 403.5,363.5 407.0,364.0 411.4,350.0 419.3,331.0 429.4,331.0 432.8,335.4 443.0,335.4 447.4,340.0 450.8,343.3 454.0,352.7 457.5,352.7 462.0,334.3 465.5,329.8 470.0,321.9 476.7,321.2 480.0,317.4 507.0,317.4 510.5,319.6 517.3,319.6 524.0,331.0 533.0,331.0 538.6,309.5 551.0,309.5 557.8,326.4 564.5,326.4 570.0,321.2 577.0,319.0 582.5,329.7 587.0,341.0 592.6,339.9 597.0,332.0 600.5,332.0 602.7,319.0 605.0,319.0 608.4,326.4 626.4,326.4 629.8,333.0 643.0,333.0 646.5,331.5 654.5,331.5 661.0,339.8 663.5,341.0 666.9,353.3 689.4,353.3 692.8,343.2 700.6,337.6 704.0,345.0 723.0,345.0 727.6,351.0 731.0,354.0 734.0,354.0" fill="none" stroke="#ff0000" stroke-width="2" stroke-linejoin="round"/>
<polyline points="2.2,343.3 23.6,342.2 31.5,338.8 46.2,338.3 54.0,331.0 60.8,327.5 81.0,327.5 103.6,325.3 110.4,321.9 116.0,320.8 121.6,320.8 130.6,330.2 185.0,330.5 190.0,333.0 195.0,337.0 200.0,339.5 215.0,339.5 220.0,337.0 228.0,336.0 233.0,334.0 240.0,333.0 255.0,333.0 262.0,337.0 267.0,343.0 275.0,344.0 300.0,344.0 310.0,344.5 317.0,347.0 324.0,350.0 330.0,349.0 338.0,344.0 345.0,344.0 352.0,336.0 357.0,334.0 390.0,334.3 399.0,333.8 403.5,337.7 410.3,341.5 435.0,341.5 444.0,346.0 468.8,346.0 480.0,341.0 493.6,335.4 534.0,335.4 543.0,321.9 547.6,320.3 570.0,320.3 582.5,320.7 591.5,325.2 626.4,325.2 634.0,329.7 663.4,329.7 672.4,336.0 679.0,336.5 687.0,340.3 699.4,340.3 708.5,342.8 726.5,342.8 733.0,343.6" fill="none" stroke="#1eb4f0" stroke-width="2" stroke-linejoin="round"/>
<rect x="2.0" y="384.0" width="203.5" height="5" fill="#db7093"/>
<rect x="205.5" y="384.0" width="36.0" height="5" fill="#32cd32"/>
<rect x="241.5" y="384.0" width="77.0" height="5" fill="#db7093"/>
<rect x="318.5" y="384.0" width="417.5" height="5" fill="#32cd32"/>
<rect x="2.0" y="397.0" width="72.0" height="5" fill="#db7093"/>
<rect x="74.0" y="397.0" width="167.5" height="5" fill="#32cd32"/>
<rect x="241.5" y="397.0" width="39.5" height="5" fill="#db7093"/>
<rect x="281.0" y="397.0" width="17.0" height="5" fill="#32cd32"/>
<rect x="298.0" y="397.0" width="20.5" height="5" fill="#db7093"/>
<rect x="318.5" y="397.0" width="417.5" height="5" fill="#32cd32"/>
<rect x="2.0" y="409.5" width="164.0" height="5" fill="#32cd32"/>
<rect x="166.0" y="409.5" width="11.5" height="5" fill="#db7093"/>
<rect x="177.5" y="409.5" width="17.0" height="5" fill="#32cd32"/>
<rect x="194.5" y="409.5" width="11.0" height="5" fill="#db7093"/>
<rect x="205.5" y="409.5" width="45.5" height="5" fill="#32cd32"/>
<rect x="251.0" y="409.5" width="30.0" height="5" fill="#db7093"/>
<rect x="281.0" y="409.5" width="17.0" height="5" fill="#32cd32"/>
<rect x="298.0" y="409.5" width="30.5" height="5" fill="#db7093"/>
<rect x="328.5" y="409.5" width="120.5" height="5" fill="#32cd32"/>
<rect x="449.0" y="409.5" width="11.0" height="5" fill="#db7093"/>
<rect x="460.0" y="409.5" width="215.0" height="5" fill="#32cd32"/>
<rect x="675.0" y="409.5" width="20.0" height="5" fill="#db7093"/>
<rect x="695.0" y="409.5" width="8.0" height="5" fill="#32cd32"/>
<rect x="703.0" y="409.5" width="33.0" height="5" fill="#db7093"/>
<rect x="2.0" y="422.0" width="51.0" height="5" fill="#32cd32"/>
<rect x="53.0" y="422.0" width="5.0" height="5" fill="#db7093"/>
<rect x="58.0" y="422.0" width="64.0" height="5" fill="#32cd32"/>
<rect x="122.0" y="422.0" width="24.0" height="5" fill="#db7093"/>
<rect x="146.0" y="422.0" width="8.0" height="5" fill="#32cd32"/>
<rect x="154.0" y="422.0" width="26.0" height="5" fill="#db7093"/>
<rect x="180.0" y="422.0" width="4.5" height="5" fill="#32cd32"/>
<rect x="184.5" y="422.0" width="5.5" height="5" fill="#db7093"/>
<rect x="190.0" y="422.0" width="4.0" height="5" fill="#32cd32"/>
<rect x="194.0" y="422.0" width="6.0" height="5" fill="#db7093"/>
<rect x="200.0" y="422.0" width="45.0" height="5" fill="#32cd32"/>
<rect x="245.0" y="422.0" width="30.0" height="5" fill="#db7093"/>
<rect x="275.0" y="422.0" width="26.0" height="5" fill="#32cd32"/>
<rect x="301.0" y="422.0" width="30.0" height="5" fill="#db7093"/>
<rect x="331.0" y="422.0" width="49.0" height="5" fill="#32cd32"/>
<rect x="380.0" y="422.0" width="4.5" height="5" fill="#db7093"/>
<rect x="384.5" y="422.0" width="4.5" height="5" fill="#32cd32"/>
<rect x="389.0" y="422.0" width="27.0" height="5" fill="#db7093"/>
<rect x="416.0" y="422.0" width="11.0" height="5" fill="#32cd32"/>
<rect x="427.0" y="422.0" width="5.0" height="5" fill="#db7093"/>
<rect x="432.0" y="422.0" width="10.0" height="5" fill="#32cd32"/>
<rect x="442.0" y="422.0" width="18.0" height="5" fill="#db7093"/>
<rect x="460.0" y="422.0" width="61.0" height="5" fill="#32cd32"/>
<rect x="521.0" y="422.0" width="8.0" height="5" fill="#db7093"/>
<rect x="529.0" y="422.0" width="55.0" height="5" fill="#32cd32"/>
<rect x="584.0" y="422.0" width="5.0" height="5" fill="#db7093"/>
<rect x="589.0" y="422.0" width="64.0" height="5" fill="#32cd32"/>
<rect x="653.0" y="422.0" width="39.0" height="5" fill="#db7093"/>
<rect x="692.0" y="422.0" width="11.0" height="5" fill="#32cd32"/>
<rect x="703.0" y="422.0" width="33.0" height="5" fill="#db7093"/>
<g fill="#c4c4c4">
<rect x="767" y="12.9" width="2.5" height="1"/>
<rect x="767" y="38.8" width="2.5" height="1"/>
<rect x="767" y="64.6" width="2.5" height="1"/>
<rect x="767" y="90.5" width="2.5" height="1"/>
<rect x="767" y="116.4" width="2.5" height="1"/>
<rect x="767" y="142.2" width="2.5" height="1"/>
<rect x="767" y="168.1" width="2.5" height="1"/>
<rect x="767" y="194.0" width="2.5" height="1"/>
<rect x="767" y="200.0" width="1.5" height="1"/>
<rect x="767" y="268.0" width="1.5" height="1"/>
<rect x="767" y="270.0" width="1.5" height="1"/>
<rect x="767" y="304.0" width="1.5" height="1"/>
<rect x="767" y="306.0" width="1.5" height="1"/>
<rect x="767" y="371.0" width="1.5" height="1"/>
<rect x="767" y="373.0" width="1.5" height="1"/>
<rect x="767" y="437.0" width="1.5" height="1"/>
<rect x="2.0" y="439" width="1" height="2.5"/>
<rect x="52.2" y="439" width="1" height="2.5"/>
<rect x="102.4" y="439" width="1" height="2.5"/>
<rect x="152.6" y="439" width="1" height="2.5"/>
<rect x="202.8" y="439" width="1" height="2.5"/>
<rect x="253.0" y="439" width="1" height="2.5"/>
<rect x="303.2" y="439" width="1" height="2.5"/>
<rect x="353.4" y="439" width="1" height="2.5"/>
<rect x="403.6" y="439" width="1" height="2.5"/>
<rect x="453.8" y="439" width="1" height="2.5"/>
<rect x="504.0" y="439" width="1" height="2.5"/>
<rect x="554.2" y="439" width="1" height="2.5"/>
<rect x="604.4" y="439" width="1" height="2.5"/>
<rect x="654.6" y="439" width="1" height="2.5"/>
<rect x="704.8" y="439" width="1" height="2.5"/>
</g>
<polygon points="4.6,7 10.4,7 7.5,10.4" fill="#fff"/>
<text x="14.4" y="11.2" font-size="9.00" fill="#ececec" textLength="43.2" lengthAdjust="spacingAndGlyphs" >GBPUSD,M5</text>
<text x="62.4" y="11.2" font-size="9.00" fill="#ececec" textLength="25.3" lengthAdjust="spacingAndGlyphs" >1.26289</text>
<text x="90.6" y="11.2" font-size="9.00" fill="#ececec" textLength="25.5" lengthAdjust="spacingAndGlyphs" >1.26319</text>
<text x="118.7" y="11.2" font-size="9.00" fill="#ececec" textLength="25.5" lengthAdjust="spacingAndGlyphs" >1.26288</text>
<text x="146.8" y="11.2" font-size="9.00" fill="#ececec" textLength="25.1" lengthAdjust="spacingAndGlyphs" >1.26311</text>
<text x="6.0" y="209.0" font-size="9.00" fill="#ececec" textLength="8.1" lengthAdjust="spacingAndGlyphs" >M5</text>
<text x="18.4" y="209.0" font-size="9.00" fill="#ececec" textLength="34.5" lengthAdjust="spacingAndGlyphs" >normalized</text>
<text x="55.6" y="209.0" font-size="9.00" fill="#ececec" textLength="10.9" lengthAdjust="spacingAndGlyphs" >RSI</text>
<text x="70.4" y="209.0" font-size="9.00" fill="#ececec" textLength="11.8" lengthAdjust="spacingAndGlyphs" >(10)</text>
<text x="84.9" y="209.0" font-size="9.00" fill="#ececec" textLength="23.6" lengthAdjust="spacingAndGlyphs" >-0.4304</text>
<text x="111.1" y="209.0" font-size="9.00" fill="#ececec" textLength="24.1" lengthAdjust="spacingAndGlyphs" >-0.4304</text>
<text x="5.6" y="280.0" font-size="9.00" fill="#ececec" textLength="68.7" lengthAdjust="spacingAndGlyphs" >IBS_RSI_CCI_v4.03</text>
<text x="77.6" y="280.0" font-size="9.00" fill="#ececec" textLength="15.0" lengthAdjust="spacingAndGlyphs" >histo</text>
<text x="95.3" y="280.0" font-size="9.00" fill="#ececec" textLength="21.0" lengthAdjust="spacingAndGlyphs" >1.0000</text>
<text x="5.3" y="316.2" font-size="9.00" fill="#ececec" textLength="59.7" lengthAdjust="spacingAndGlyphs" >IBS_RSI_CCI_v4</text>
<text x="68.0" y="316.2" font-size="9.00" fill="#ececec" textLength="4.3" lengthAdjust="spacingAndGlyphs" >+</text>
<text x="75.7" y="316.2" font-size="9.00" fill="#ececec" textLength="14.6" lengthAdjust="spacingAndGlyphs" >alert</text>
<text x="91.4" y="316.2" font-size="9.00" fill="#ececec" textLength="12.2" lengthAdjust="spacingAndGlyphs" >mtf</text>
<text x="105.2" y="316.2" font-size="9.00" fill="#ececec" textLength="28.2" lengthAdjust="spacingAndGlyphs" >-75.4665</text>
<text x="137.0" y="316.2" font-size="9.00" fill="#ececec" textLength="27.2" lengthAdjust="spacingAndGlyphs" >-17.7943</text>
<text x="5.0" y="383.6" font-size="9.00" fill="#ececec" textLength="4.5" lengthAdjust="spacingAndGlyphs" >4</text>
<text x="12.0" y="383.6" font-size="9.00" fill="#ececec" textLength="16.0" lengthAdjust="spacingAndGlyphs" >Time</text>
<text x="30.5" y="383.6" font-size="9.00" fill="#ececec" textLength="13.5" lengthAdjust="spacingAndGlyphs" >CCI</text>
<text x="47.0" y="383.6" font-size="9.00" fill="#ececec" textLength="14.0" lengthAdjust="spacingAndGlyphs" >v2.1</text>
<text x="64.0" y="383.6" font-size="9.00" fill="#ececec" textLength="22.5" lengthAdjust="spacingAndGlyphs" >1.0000</text>
<text x="88.5" y="383.6" font-size="9.00" fill="#ececec" textLength="21.5" lengthAdjust="spacingAndGlyphs" >2.0000</text>
<text x="113.0" y="383.6" font-size="9.00" fill="#ececec" textLength="21.5" lengthAdjust="spacingAndGlyphs" >3.0000</text>
<text x="137.5" y="383.6" font-size="9.00" fill="#ececec" textLength="21.5" lengthAdjust="spacingAndGlyphs" >4.0000</text>
<text x="771.2" y="16.7" font-size="9.00" fill="#ececec" textLength="25.7" lengthAdjust="spacingAndGlyphs" >1.26648</text>
<text x="771.2" y="42.6" font-size="9.00" fill="#ececec" textLength="25.7" lengthAdjust="spacingAndGlyphs" >1.26362</text>
<text x="771.2" y="68.4" font-size="9.00" fill="#ececec" textLength="25.7" lengthAdjust="spacingAndGlyphs" >1.26083</text>
<text x="771.2" y="94.3" font-size="9.00" fill="#ececec" textLength="25.7" lengthAdjust="spacingAndGlyphs" >1.25798</text>
<text x="771.2" y="120.2" font-size="9.00" fill="#ececec" textLength="25.7" lengthAdjust="spacingAndGlyphs" >1.25518</text>
<text x="771.2" y="146.1" font-size="9.00" fill="#ececec" textLength="25.7" lengthAdjust="spacingAndGlyphs" >1.25233</text>
<text x="771.2" y="171.9" font-size="9.00" fill="#ececec" textLength="25.7" lengthAdjust="spacingAndGlyphs" >1.24948</text>
<text x="771.2" y="197.8" font-size="9.00" fill="#ececec" textLength="25.7" lengthAdjust="spacingAndGlyphs" >1.24668</text>
<rect x="768" y="40" width="32" height="9" fill="#fff"/>
<text x="771.2" y="47.4" font-size="9.00" fill="#000" textLength="25.7" lengthAdjust="spacingAndGlyphs" >1.26311</text>
<text x="769.0" y="207.4" font-size="9.00" fill="#ececec" textLength="10.2" lengthAdjust="spacingAndGlyphs" >1.1</text>
<text x="769.0" y="230.3" font-size="9.00" fill="#ececec" textLength="10.2" lengthAdjust="spacingAndGlyphs" >0.2</text>
<text x="769.0" y="236.7" font-size="9.00" fill="#ececec" textLength="14.3" lengthAdjust="spacingAndGlyphs" >0.00</text>
<text x="769.0" y="243.2" font-size="9.00" fill="#ececec" textLength="12.6" lengthAdjust="spacingAndGlyphs" >-0.2</text>
<text x="769.0" y="266.1" font-size="9.00" fill="#ececec" textLength="12.6" lengthAdjust="spacingAndGlyphs" >-1.1</text>
<text x="770.0" y="278.5" font-size="9.00" fill="#ececec" textLength="4.1" lengthAdjust="spacingAndGlyphs" >1</text>
<text x="770.0" y="301.6" font-size="9.00" fill="#ececec" textLength="4.1" lengthAdjust="spacingAndGlyphs" >0</text>
<text x="769.0" y="314.7" font-size="9.00" fill="#ececec" textLength="30.6" lengthAdjust="spacingAndGlyphs" >173.0799</text>
<text x="769.0" y="343.7" font-size="9.00" fill="#ececec" textLength="14.3" lengthAdjust="spacingAndGlyphs" >0.00</text>
<text x="769.0" y="369.7" font-size="9.00" fill="#ececec" textLength="33.0" lengthAdjust="spacingAndGlyphs" >-162.0208</text>
<text x="769.5" y="381.7" font-size="9.00" fill="#ececec" textLength="4.1" lengthAdjust="spacingAndGlyphs" >5</text>
<text x="769.5" y="434.7" font-size="9.00" fill="#ececec" textLength="4.1" lengthAdjust="spacingAndGlyphs" >0</text>
<text x="744.5" y="389.1" font-size="9.00" fill="#a8a8a8" textLength="9.3" lengthAdjust="spacingAndGlyphs" >H1</text>
<text x="741.3" y="401.6" font-size="9.00" fill="#a8a8a8" textLength="15.7" lengthAdjust="spacingAndGlyphs" >M30</text>
<text x="741.3" y="414.1" font-size="9.00" fill="#a8a8a8" textLength="15.7" lengthAdjust="spacingAndGlyphs" >M15</text>
<text x="743.8" y="426.6" font-size="9.00" fill="#a8a8a8" textLength="10.7" lengthAdjust="spacingAndGlyphs" >M5</text>
<text x="1.9" y="448.2" font-size="9.00" fill="#ececec" textLength="40.8" lengthAdjust="spacingAndGlyphs" >12 Dec 2018</text>
<text x="52.1" y="448.2" font-size="9.00" fill="#ececec" textLength="42.8" lengthAdjust="spacingAndGlyphs" >12 Dec 02:55</text>
<text x="102.3" y="448.2" font-size="9.00" fill="#ececec" textLength="42.8" lengthAdjust="spacingAndGlyphs" >12 Dec 04:15</text>
<text x="152.5" y="448.2" font-size="9.00" fill="#ececec" textLength="42.8" lengthAdjust="spacingAndGlyphs" >12 Dec 05:35</text>
<text x="202.7" y="448.2" font-size="9.00" fill="#ececec" textLength="42.8" lengthAdjust="spacingAndGlyphs" >12 Dec 06:55</text>
<text x="252.9" y="448.2" font-size="9.00" fill="#ececec" textLength="42.8" lengthAdjust="spacingAndGlyphs" >12 Dec 08:15</text>
<text x="303.1" y="448.2" font-size="9.00" fill="#ececec" textLength="42.8" lengthAdjust="spacingAndGlyphs" >12 Dec 09:35</text>
<text x="353.3" y="448.2" font-size="9.00" fill="#ececec" textLength="42.8" lengthAdjust="spacingAndGlyphs" >12 Dec 10:55</text>
<text x="403.5" y="448.2" font-size="9.00" fill="#ececec" textLength="42.8" lengthAdjust="spacingAndGlyphs" >12 Dec 12:15</text>
<text x="453.7" y="448.2" font-size="9.00" fill="#ececec" textLength="42.8" lengthAdjust="spacingAndGlyphs" >12 Dec 13:35</text>
<text x="503.9" y="448.2" font-size="9.00" fill="#ececec" textLength="42.8" lengthAdjust="spacingAndGlyphs" >12 Dec 14:55</text>
<text x="554.1" y="448.2" font-size="9.00" fill="#ececec" textLength="42.8" lengthAdjust="spacingAndGlyphs" >12 Dec 16:15</text>
<text x="604.3" y="448.2" font-size="9.00" fill="#ececec" textLength="42.8" lengthAdjust="spacingAndGlyphs" >12 Dec 17:35</text>
<text x="654.5" y="448.2" font-size="9.00" fill="#ececec" textLength="42.8" lengthAdjust="spacingAndGlyphs" >12 Dec 18:55</text>
<text x="704.7" y="448.2" font-size="9.00" fill="#ececec" textLength="42.8" lengthAdjust="spacingAndGlyphs" >12 Dec 20:15</text>
</svg></body></html>
